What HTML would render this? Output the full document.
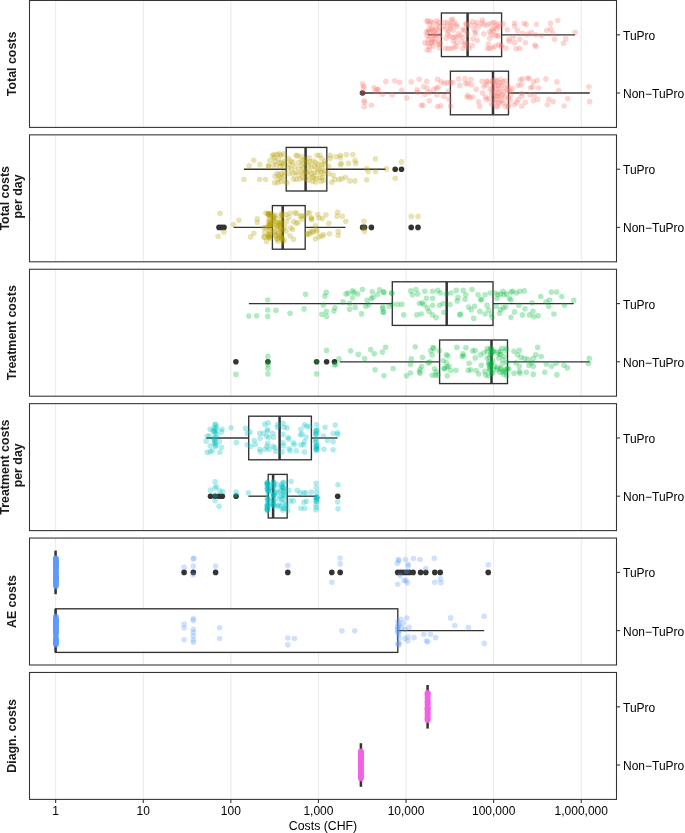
<!DOCTYPE html>
<html><head><meta charset="utf-8"><style>
html,body{margin:0;padding:0;background:#fff;}
svg{display:block;will-change:transform;}
text{font-family:"Liberation Sans",sans-serif;}
.ax{font-size:12px;fill:#000;}
.ti{font-size:12.3px;fill:#000;}
.st{font-size:12.4px;font-weight:bold;fill:#1A1A1A;}
</style></head><body>
<svg width="685" height="833" viewBox="0 0 685 833">
<rect width="685" height="833" fill="#fff"/>
<line x1="55.65" y1="0.45" x2="55.65" y2="127.40" stroke="#EBEBEE" stroke-width="1.07"/>
<line x1="143.25" y1="0.45" x2="143.25" y2="127.40" stroke="#EBEBEE" stroke-width="1.07"/>
<line x1="230.85" y1="0.45" x2="230.85" y2="127.40" stroke="#EBEBEE" stroke-width="1.07"/>
<line x1="318.45" y1="0.45" x2="318.45" y2="127.40" stroke="#EBEBEE" stroke-width="1.07"/>
<line x1="406.05" y1="0.45" x2="406.05" y2="127.40" stroke="#EBEBEE" stroke-width="1.07"/>
<line x1="493.65" y1="0.45" x2="493.65" y2="127.40" stroke="#EBEBEE" stroke-width="1.07"/>
<line x1="581.25" y1="0.45" x2="581.25" y2="127.40" stroke="#EBEBEE" stroke-width="1.07"/>
<line x1="427.8" y1="34.8" x2="441.4" y2="34.8" stroke="#333333" stroke-width="1.35"/>
<line x1="501.6" y1="34.8" x2="575.2" y2="34.8" stroke="#333333" stroke-width="1.35"/>
<rect x="441.4" y="13.00" width="60.20" height="43.6" fill="#fff" stroke="#333333" stroke-width="1.35"/>
<line x1="467.6" y1="13.00" x2="467.6" y2="56.60" stroke="#333333" stroke-width="2.5"/>
<line x1="364.0" y1="93.0" x2="450.4" y2="93.0" stroke="#333333" stroke-width="1.35"/>
<line x1="508.5" y1="93.0" x2="589.8" y2="93.0" stroke="#333333" stroke-width="1.35"/>
<rect x="450.4" y="71.20" width="58.10" height="43.6" fill="#fff" stroke="#333333" stroke-width="1.35"/>
<line x1="493.0" y1="71.20" x2="493.0" y2="114.80" stroke="#333333" stroke-width="2.5"/>
<circle cx="362.5" cy="93.0" r="2.8" fill="#333333"/>
<g fill="#F8766D" fill-opacity="0.3">
<circle cx="470.0" cy="25.1" r="2.8"/><circle cx="456.3" cy="24.4" r="2.8"/><circle cx="444.6" cy="22.2" r="2.8"/><circle cx="486.8" cy="25.1" r="2.8"/><circle cx="447.5" cy="22.9" r="2.8"/><circle cx="427.1" cy="36.1" r="2.8"/><circle cx="456.3" cy="42.7" r="2.8"/><circle cx="457.0" cy="26.6" r="2.8"/><circle cx="462.9" cy="37.5" r="2.8"/><circle cx="526.3" cy="24.6" r="2.8"/><circle cx="494.1" cy="28.1" r="2.8"/><circle cx="493.4" cy="31.0" r="2.8"/><circle cx="432.9" cy="46.3" r="2.8"/><circle cx="514.6" cy="23.1" r="2.8"/><circle cx="494.8" cy="35.4" r="2.8"/><circle cx="432.9" cy="22.9" r="2.8"/><circle cx="477.3" cy="40.5" r="2.8"/><circle cx="472.2" cy="45.6" r="2.8"/><circle cx="435.1" cy="39.0" r="2.8"/><circle cx="432.2" cy="39.7" r="2.8"/><circle cx="473.7" cy="29.5" r="2.8"/><circle cx="563.5" cy="43.3" r="2.8"/><circle cx="465.1" cy="45.6" r="2.8"/><circle cx="575.2" cy="32.2" r="2.8"/><circle cx="451.2" cy="25.9" r="2.8"/><circle cx="535.8" cy="34.8" r="2.8"/><circle cx="557.7" cy="20.5" r="2.8"/><circle cx="494.8" cy="22.2" r="2.8"/><circle cx="489.7" cy="48.5" r="2.8"/><circle cx="514.6" cy="42.4" r="2.8"/><circle cx="447.5" cy="33.9" r="2.8"/><circle cx="451.2" cy="20.0" r="2.8"/><circle cx="498.5" cy="44.8" r="2.8"/><circle cx="458.5" cy="33.9" r="2.8"/><circle cx="431.5" cy="29.5" r="2.8"/><circle cx="450.5" cy="28.8" r="2.8"/><circle cx="524.1" cy="23.4" r="2.8"/><circle cx="497.0" cy="28.8" r="2.8"/><circle cx="460.7" cy="35.4" r="2.8"/><circle cx="519.7" cy="48.2" r="2.8"/><circle cx="492.7" cy="47.8" r="2.8"/><circle cx="445.4" cy="48.5" r="2.8"/><circle cx="475.9" cy="31.7" r="2.8"/><circle cx="552.6" cy="33.1" r="2.8"/><circle cx="467.1" cy="43.4" r="2.8"/><circle cx="496.3" cy="25.1" r="2.8"/><circle cx="527.7" cy="34.1" r="2.8"/><circle cx="491.2" cy="33.9" r="2.8"/><circle cx="478.8" cy="26.6" r="2.8"/><circle cx="483.9" cy="24.4" r="2.8"/><circle cx="436.7" cy="29.5" r="2.8"/><circle cx="439.5" cy="36.1" r="2.8"/><circle cx="430.8" cy="21.5" r="2.8"/><circle cx="489.7" cy="38.3" r="2.8"/><circle cx="449.7" cy="36.1" r="2.8"/><circle cx="452.7" cy="37.5" r="2.8"/><circle cx="508.8" cy="39.2" r="2.8"/><circle cx="446.1" cy="38.3" r="2.8"/><circle cx="498.5" cy="36.1" r="2.8"/><circle cx="461.4" cy="41.9" r="2.8"/><circle cx="550.8" cy="28.7" r="2.8"/><circle cx="554.7" cy="39.2" r="2.8"/><circle cx="432.2" cy="27.7" r="2.8"/><circle cx="500.7" cy="46.3" r="2.8"/><circle cx="467.1" cy="33.9" r="2.8"/><circle cx="434.4" cy="30.2" r="2.8"/><circle cx="489.7" cy="31.7" r="2.8"/><circle cx="476.6" cy="22.2" r="2.8"/><circle cx="430.0" cy="36.1" r="2.8"/><circle cx="505.8" cy="48.2" r="2.8"/><circle cx="465.8" cy="23.7" r="2.8"/><circle cx="535.0" cy="45.0" r="2.8"/><circle cx="565.7" cy="38.9" r="2.8"/><circle cx="494.8" cy="46.3" r="2.8"/><circle cx="454.1" cy="47.8" r="2.8"/><circle cx="522.6" cy="33.4" r="2.8"/><circle cx="453.4" cy="41.2" r="2.8"/><circle cx="427.8" cy="20.8" r="2.8"/><circle cx="438.8" cy="41.9" r="2.8"/><circle cx="514.6" cy="26.1" r="2.8"/><circle cx="436.6" cy="35.4" r="2.8"/><circle cx="481.7" cy="22.9" r="2.8"/><circle cx="475.1" cy="25.1" r="2.8"/><circle cx="457.0" cy="37.5" r="2.8"/><circle cx="492.7" cy="22.9" r="2.8"/><circle cx="454.8" cy="36.8" r="2.8"/><circle cx="431.6" cy="41.9" r="2.8"/><circle cx="498.5" cy="26.6" r="2.8"/><circle cx="438.5" cy="44.8" r="2.8"/><circle cx="429.4" cy="31.5" r="2.8"/><circle cx="472.9" cy="39.0" r="2.8"/><circle cx="487.5" cy="48.5" r="2.8"/><circle cx="517.5" cy="30.4" r="2.8"/><circle cx="456.3" cy="46.3" r="2.8"/><circle cx="536.5" cy="24.3" r="2.8"/><circle cx="443.9" cy="26.6" r="2.8"/><circle cx="438.8" cy="31.0" r="2.8"/><circle cx="426.4" cy="32.4" r="2.8"/><circle cx="449.7" cy="24.4" r="2.8"/><circle cx="424.9" cy="42.7" r="2.8"/><circle cx="535.8" cy="46.5" r="2.8"/><circle cx="434.4" cy="41.9" r="2.8"/><circle cx="439.5" cy="26.6" r="2.8"/><circle cx="448.3" cy="48.5" r="2.8"/><circle cx="462.9" cy="29.5" r="2.8"/><circle cx="466.7" cy="24.4" r="2.8"/><circle cx="465.1" cy="42.7" r="2.8"/><circle cx="546.7" cy="30.4" r="2.8"/><circle cx="432.9" cy="35.4" r="2.8"/><circle cx="516.1" cy="48.7" r="2.8"/><circle cx="483.9" cy="33.9" r="2.8"/><circle cx="427.8" cy="32.0" r="2.8"/><circle cx="429.3" cy="46.3" r="2.8"/><circle cx="439.3" cy="47.6" r="2.8"/><circle cx="452.7" cy="19.3" r="2.8"/><circle cx="464.3" cy="30.2" r="2.8"/><circle cx="525.5" cy="42.8" r="2.8"/><circle cx="428.6" cy="39.7" r="2.8"/><circle cx="451.2" cy="48.5" r="2.8"/><circle cx="438.8" cy="22.2" r="2.8"/><circle cx="427.8" cy="43.4" r="2.8"/><circle cx="448.3" cy="31.0" r="2.8"/><circle cx="488.3" cy="44.1" r="2.8"/><circle cx="427.0" cy="21.2" r="2.8"/><circle cx="500.0" cy="23.7" r="2.8"/><circle cx="462.9" cy="48.5" r="2.8"/><circle cx="454.1" cy="22.9" r="2.8"/><circle cx="507.3" cy="29.7" r="2.8"/><circle cx="429.3" cy="24.4" r="2.8"/><circle cx="489.7" cy="23.7" r="2.8"/><circle cx="436.6" cy="20.8" r="2.8"/><circle cx="491.9" cy="29.5" r="2.8"/><circle cx="469.3" cy="48.5" r="2.8"/><circle cx="434.9" cy="34.8" r="2.8"/><circle cx="482.4" cy="20.0" r="2.8"/><circle cx="513.1" cy="37.0" r="2.8"/><circle cx="501.5" cy="45.8" r="2.8"/><circle cx="429.3" cy="50.0" r="2.8"/><circle cx="503.2" cy="23.9" r="2.8"/><circle cx="550.4" cy="23.4" r="2.8"/><circle cx="433.7" cy="32.4" r="2.8"/><circle cx="497.0" cy="35.4" r="2.8"/><circle cx="472.2" cy="21.5" r="2.8"/><circle cx="428.6" cy="29.5" r="2.8"/><circle cx="431.5" cy="42.7" r="2.8"/><circle cx="541.6" cy="35.5" r="2.8"/><circle cx="475.1" cy="33.9" r="2.8"/><circle cx="453.4" cy="30.2" r="2.8"/><circle cx="519.7" cy="39.2" r="2.8"/><circle cx="531.4" cy="32.2" r="2.8"/><circle cx="440.2" cy="43.4" r="2.8"/><circle cx="446.1" cy="28.8" r="2.8"/><circle cx="427.1" cy="50.0" r="2.8"/><circle cx="437.3" cy="25.1" r="2.8"/><circle cx="509.5" cy="41.4" r="2.8"/>
</g>
<g fill="#F8766D" fill-opacity="0.3">
<circle cx="503.6" cy="92.4" r="2.8"/><circle cx="459.9" cy="85.4" r="2.8"/><circle cx="376.2" cy="91.4" r="2.8"/><circle cx="518.1" cy="85.5" r="2.8"/><circle cx="465.1" cy="78.9" r="2.8"/><circle cx="482.0" cy="81.3" r="2.8"/><circle cx="437.5" cy="106.7" r="2.8"/><circle cx="471.5" cy="84.8" r="2.8"/><circle cx="497.8" cy="106.4" r="2.8"/><circle cx="470.9" cy="79.5" r="2.8"/><circle cx="450.6" cy="106.2" r="2.8"/><circle cx="494.9" cy="81.9" r="2.8"/><circle cx="534.2" cy="95.7" r="2.8"/><circle cx="458.7" cy="78.9" r="2.8"/><circle cx="500.7" cy="97.0" r="2.8"/><circle cx="422.9" cy="105.2" r="2.8"/><circle cx="501.9" cy="85.4" r="2.8"/><circle cx="417.8" cy="92.1" r="2.8"/><circle cx="499.6" cy="102.9" r="2.8"/><circle cx="436.8" cy="88.4" r="2.8"/><circle cx="496.1" cy="99.4" r="2.8"/><circle cx="371.4" cy="105.2" r="2.8"/><circle cx="505.4" cy="106.4" r="2.8"/><circle cx="521.8" cy="106.2" r="2.8"/><circle cx="507.7" cy="85.4" r="2.8"/><circle cx="500.7" cy="79.5" r="2.8"/><circle cx="465.7" cy="83.6" r="2.8"/><circle cx="510.1" cy="90.0" r="2.8"/><circle cx="498.4" cy="101.7" r="2.8"/><circle cx="521.1" cy="84.8" r="2.8"/><circle cx="449.2" cy="99.4" r="2.8"/><circle cx="496.1" cy="88.9" r="2.8"/><circle cx="485.5" cy="97.0" r="2.8"/><circle cx="468.0" cy="95.3" r="2.8"/><circle cx="490.2" cy="88.9" r="2.8"/><circle cx="392.2" cy="95.0" r="2.8"/><circle cx="482.6" cy="92.9" r="2.8"/><circle cx="548.8" cy="99.4" r="2.8"/><circle cx="547.3" cy="104.8" r="2.8"/><circle cx="438.2" cy="87.0" r="2.8"/><circle cx="529.1" cy="78.5" r="2.8"/><circle cx="507.2" cy="90.0" r="2.8"/><circle cx="401.7" cy="90.2" r="2.8"/><circle cx="533.5" cy="100.8" r="2.8"/><circle cx="447.0" cy="82.6" r="2.8"/><circle cx="436.8" cy="95.0" r="2.8"/><circle cx="476.2" cy="89.4" r="2.8"/><circle cx="510.8" cy="95.0" r="2.8"/><circle cx="437.5" cy="79.4" r="2.8"/><circle cx="508.9" cy="91.2" r="2.8"/><circle cx="382.4" cy="94.3" r="2.8"/><circle cx="364.1" cy="100.8" r="2.8"/><circle cx="588.9" cy="86.7" r="2.8"/><circle cx="500.7" cy="91.2" r="2.8"/><circle cx="494.9" cy="79.5" r="2.8"/><circle cx="378.4" cy="89.6" r="2.8"/><circle cx="503.1" cy="81.9" r="2.8"/><circle cx="525.4" cy="102.3" r="2.8"/><circle cx="478.5" cy="101.7" r="2.8"/><circle cx="489.1" cy="98.8" r="2.8"/><circle cx="441.1" cy="81.9" r="2.8"/><circle cx="468.0" cy="83.6" r="2.8"/><circle cx="505.4" cy="80.7" r="2.8"/><circle cx="498.4" cy="85.4" r="2.8"/><circle cx="466.9" cy="97.0" r="2.8"/><circle cx="429.5" cy="92.1" r="2.8"/><circle cx="486.7" cy="81.3" r="2.8"/><circle cx="419.2" cy="79.4" r="2.8"/><circle cx="427.3" cy="88.4" r="2.8"/><circle cx="495.5" cy="85.4" r="2.8"/><circle cx="469.8" cy="97.6" r="2.8"/><circle cx="556.8" cy="81.9" r="2.8"/><circle cx="363.5" cy="88.4" r="2.8"/><circle cx="533.5" cy="81.9" r="2.8"/><circle cx="444.1" cy="96.5" r="2.8"/><circle cx="510.1" cy="100.1" r="2.8"/><circle cx="522.5" cy="78.9" r="2.8"/><circle cx="492.0" cy="81.3" r="2.8"/><circle cx="472.7" cy="97.0" r="2.8"/><circle cx="450.6" cy="82.6" r="2.8"/><circle cx="429.2" cy="100.8" r="2.8"/><circle cx="502.5" cy="94.7" r="2.8"/><circle cx="497.8" cy="93.5" r="2.8"/><circle cx="483.8" cy="86.5" r="2.8"/><circle cx="504.8" cy="87.7" r="2.8"/><circle cx="394.7" cy="80.8" r="2.8"/><circle cx="491.4" cy="104.0" r="2.8"/><circle cx="491.4" cy="93.5" r="2.8"/><circle cx="487.9" cy="81.9" r="2.8"/><circle cx="385.9" cy="81.4" r="2.8"/><circle cx="417.0" cy="89.9" r="2.8"/><circle cx="520.3" cy="79.7" r="2.8"/><circle cx="486.1" cy="84.8" r="2.8"/><circle cx="537.8" cy="99.4" r="2.8"/><circle cx="364.5" cy="102.3" r="2.8"/><circle cx="564.1" cy="106.0" r="2.8"/><circle cx="498.4" cy="95.9" r="2.8"/><circle cx="479.7" cy="106.4" r="2.8"/><circle cx="362.3" cy="92.8" r="2.8"/><circle cx="516.7" cy="102.3" r="2.8"/><circle cx="423.6" cy="86.7" r="2.8"/><circle cx="376.9" cy="89.2" r="2.8"/><circle cx="553.2" cy="101.6" r="2.8"/><circle cx="493.7" cy="97.0" r="2.8"/><circle cx="518.1" cy="99.4" r="2.8"/><circle cx="364.1" cy="106.7" r="2.8"/><circle cx="514.5" cy="104.5" r="2.8"/><circle cx="529.8" cy="95.0" r="2.8"/><circle cx="363.8" cy="86.2" r="2.8"/><circle cx="448.4" cy="91.4" r="2.8"/><circle cx="538.6" cy="88.1" r="2.8"/><circle cx="433.8" cy="89.2" r="2.8"/><circle cx="493.1" cy="83.0" r="2.8"/><circle cx="532.7" cy="87.0" r="2.8"/><circle cx="558.7" cy="90.6" r="2.8"/><circle cx="362.5" cy="83.8" r="2.8"/><circle cx="494.9" cy="92.4" r="2.8"/><circle cx="499.6" cy="83.0" r="2.8"/><circle cx="426.8" cy="81.4" r="2.8"/><circle cx="486.7" cy="99.4" r="2.8"/><circle cx="499.0" cy="88.9" r="2.8"/><circle cx="452.8" cy="82.6" r="2.8"/><circle cx="421.4" cy="105.2" r="2.8"/><circle cx="440.4" cy="105.7" r="2.8"/><circle cx="589.7" cy="101.6" r="2.8"/><circle cx="411.2" cy="81.9" r="2.8"/><circle cx="444.1" cy="83.3" r="2.8"/><circle cx="545.9" cy="78.9" r="2.8"/><circle cx="425.1" cy="94.3" r="2.8"/><circle cx="494.3" cy="101.7" r="2.8"/><circle cx="521.8" cy="93.5" r="2.8"/><circle cx="505.4" cy="97.0" r="2.8"/><circle cx="508.3" cy="98.2" r="2.8"/><circle cx="501.9" cy="100.5" r="2.8"/><circle cx="521.8" cy="96.5" r="2.8"/><circle cx="399.5" cy="82.3" r="2.8"/><circle cx="497.2" cy="80.7" r="2.8"/><circle cx="496.6" cy="95.9" r="2.8"/><circle cx="567.8" cy="98.7" r="2.8"/><circle cx="503.6" cy="102.9" r="2.8"/><circle cx="507.9" cy="106.7" r="2.8"/><circle cx="374.0" cy="87.7" r="2.8"/><circle cx="527.6" cy="78.2" r="2.8"/><circle cx="496.1" cy="106.4" r="2.8"/><circle cx="530.5" cy="87.7" r="2.8"/><circle cx="537.1" cy="80.4" r="2.8"/><circle cx="492.6" cy="88.9" r="2.8"/><circle cx="508.9" cy="105.2" r="2.8"/><circle cx="406.8" cy="97.9" r="2.8"/><circle cx="512.3" cy="88.4" r="2.8"/>
</g>
<rect x="29.5" y="0.45" width="587.0" height="126.95" fill="none" stroke="#333333" stroke-width="1.07"/>
<line x1="616.5" y1="34.8" x2="620.1" y2="34.8" stroke="#333333" stroke-width="1.07"/>
<text x="623" y="39.70" class="ax">TuPro</text>
<line x1="616.5" y1="93.0" x2="620.1" y2="93.0" stroke="#333333" stroke-width="1.07"/>
<text x="623" y="97.90" class="ax">Non−TuPro</text>
<text transform="translate(16.4,63.93) rotate(-90)" text-anchor="middle" class="st">Total costs</text>
<line x1="55.65" y1="134.85" x2="55.65" y2="261.80" stroke="#EBEBEE" stroke-width="1.07"/>
<line x1="143.25" y1="134.85" x2="143.25" y2="261.80" stroke="#EBEBEE" stroke-width="1.07"/>
<line x1="230.85" y1="134.85" x2="230.85" y2="261.80" stroke="#EBEBEE" stroke-width="1.07"/>
<line x1="318.45" y1="134.85" x2="318.45" y2="261.80" stroke="#EBEBEE" stroke-width="1.07"/>
<line x1="406.05" y1="134.85" x2="406.05" y2="261.80" stroke="#EBEBEE" stroke-width="1.07"/>
<line x1="493.65" y1="134.85" x2="493.65" y2="261.80" stroke="#EBEBEE" stroke-width="1.07"/>
<line x1="581.25" y1="134.85" x2="581.25" y2="261.80" stroke="#EBEBEE" stroke-width="1.07"/>
<line x1="243.9" y1="169.2" x2="286.2" y2="169.2" stroke="#333333" stroke-width="1.35"/>
<line x1="326.8" y1="169.2" x2="385.7" y2="169.2" stroke="#333333" stroke-width="1.35"/>
<rect x="286.2" y="147.40" width="40.60" height="43.6" fill="#fff" stroke="#333333" stroke-width="1.35"/>
<line x1="305.6" y1="147.40" x2="305.6" y2="191.00" stroke="#333333" stroke-width="2.5"/>
<circle cx="395.2" cy="169.2" r="2.8" fill="#333333"/>
<circle cx="401.5" cy="169.2" r="2.8" fill="#333333"/>
<line x1="233.6" y1="227.4" x2="272.4" y2="227.4" stroke="#333333" stroke-width="1.35"/>
<line x1="305.2" y1="227.4" x2="345.5" y2="227.4" stroke="#333333" stroke-width="1.35"/>
<rect x="272.4" y="205.60" width="32.80" height="43.6" fill="#fff" stroke="#333333" stroke-width="1.35"/>
<line x1="282.7" y1="205.60" x2="282.7" y2="249.20" stroke="#333333" stroke-width="2.5"/>
<circle cx="219" cy="227.4" r="2.8" fill="#333333"/>
<circle cx="221.5" cy="227.4" r="2.8" fill="#333333"/>
<circle cx="224" cy="227.4" r="2.8" fill="#333333"/>
<circle cx="362.6" cy="227.4" r="2.8" fill="#333333"/>
<circle cx="364.5" cy="227.4" r="2.8" fill="#333333"/>
<circle cx="371.4" cy="227.4" r="2.8" fill="#333333"/>
<circle cx="411.2" cy="227.4" r="2.8" fill="#333333"/>
<circle cx="418" cy="227.4" r="2.8" fill="#333333"/>
<g fill="#B79F00" fill-opacity="0.3">
<circle cx="272.5" cy="155.9" r="2.8"/><circle cx="285.0" cy="160.5" r="2.8"/><circle cx="318.4" cy="164.4" r="2.8"/><circle cx="306.6" cy="172.3" r="2.8"/><circle cx="333.1" cy="175.0" r="2.8"/><circle cx="275.1" cy="176.2" r="2.8"/><circle cx="288.3" cy="167.7" r="2.8"/><circle cx="319.7" cy="177.5" r="2.8"/><circle cx="341.9" cy="178.7" r="2.8"/><circle cx="322.3" cy="168.3" r="2.8"/><circle cx="292.9" cy="162.4" r="2.8"/><circle cx="296.2" cy="155.2" r="2.8"/><circle cx="283.7" cy="176.2" r="2.8"/><circle cx="314.5" cy="172.3" r="2.8"/><circle cx="259.7" cy="179.5" r="2.8"/><circle cx="298.8" cy="162.4" r="2.8"/><circle cx="319.7" cy="155.2" r="2.8"/><circle cx="315.8" cy="162.4" r="2.8"/><circle cx="277.8" cy="182.8" r="2.8"/><circle cx="274.5" cy="182.8" r="2.8"/><circle cx="306.6" cy="162.4" r="2.8"/><circle cx="346.3" cy="154.6" r="2.8"/><circle cx="308.5" cy="180.2" r="2.8"/><circle cx="300.1" cy="178.9" r="2.8"/><circle cx="278.4" cy="178.9" r="2.8"/><circle cx="319.7" cy="169.7" r="2.8"/><circle cx="355.0" cy="160.4" r="2.8"/><circle cx="268.6" cy="165.7" r="2.8"/><circle cx="301.4" cy="172.3" r="2.8"/><circle cx="301.4" cy="156.5" r="2.8"/><circle cx="291.6" cy="169.0" r="2.8"/><circle cx="322.3" cy="177.5" r="2.8"/><circle cx="328.8" cy="173.6" r="2.8"/><circle cx="315.8" cy="182.1" r="2.8"/><circle cx="375.5" cy="171.4" r="2.8"/><circle cx="366.7" cy="179.7" r="2.8"/><circle cx="313.1" cy="161.1" r="2.8"/><circle cx="305.4" cy="178.9" r="2.8"/><circle cx="308.5" cy="165.7" r="2.8"/><circle cx="281.1" cy="155.2" r="2.8"/><circle cx="352.8" cy="154.6" r="2.8"/><circle cx="281.1" cy="177.5" r="2.8"/><circle cx="340.4" cy="155.3" r="2.8"/><circle cx="325.0" cy="161.1" r="2.8"/><circle cx="348.5" cy="163.4" r="2.8"/><circle cx="277.1" cy="154.5" r="2.8"/><circle cx="289.6" cy="164.4" r="2.8"/><circle cx="339.0" cy="179.4" r="2.8"/><circle cx="368.2" cy="171.4" r="2.8"/><circle cx="298.1" cy="174.9" r="2.8"/><circle cx="283.7" cy="163.7" r="2.8"/><circle cx="349.9" cy="180.9" r="2.8"/><circle cx="273.2" cy="165.1" r="2.8"/><circle cx="304.0" cy="163.1" r="2.8"/><circle cx="273.8" cy="154.5" r="2.8"/><circle cx="323.7" cy="180.2" r="2.8"/><circle cx="321.0" cy="181.5" r="2.8"/><circle cx="317.1" cy="167.7" r="2.8"/><circle cx="355.0" cy="180.9" r="2.8"/><circle cx="279.7" cy="163.1" r="2.8"/><circle cx="386.4" cy="168.9" r="2.8"/><circle cx="316.4" cy="178.2" r="2.8"/><circle cx="243.9" cy="179.5" r="2.8"/><circle cx="292.9" cy="173.6" r="2.8"/><circle cx="314.5" cy="166.4" r="2.8"/><circle cx="303.4" cy="167.7" r="2.8"/><circle cx="305.0" cy="171.0" r="2.8"/><circle cx="259.7" cy="164.4" r="2.8"/><circle cx="297.5" cy="155.9" r="2.8"/><circle cx="283.7" cy="153.9" r="2.8"/><circle cx="334.6" cy="179.4" r="2.8"/><circle cx="253.8" cy="160.2" r="2.8"/><circle cx="311.8" cy="173.6" r="2.8"/><circle cx="298.8" cy="169.0" r="2.8"/><circle cx="366.7" cy="168.5" r="2.8"/><circle cx="281.7" cy="173.6" r="2.8"/><circle cx="265.6" cy="179.5" r="2.8"/><circle cx="321.7" cy="164.4" r="2.8"/><circle cx="290.9" cy="161.1" r="2.8"/><circle cx="277.1" cy="173.6" r="2.8"/><circle cx="304.7" cy="159.1" r="2.8"/><circle cx="279.1" cy="174.9" r="2.8"/><circle cx="341.2" cy="163.4" r="2.8"/><circle cx="312.5" cy="181.5" r="2.8"/><circle cx="274.5" cy="157.8" r="2.8"/><circle cx="294.9" cy="166.4" r="2.8"/><circle cx="401.5" cy="161.9" r="2.8"/><circle cx="281.7" cy="162.4" r="2.8"/><circle cx="395.2" cy="178.2" r="2.8"/><circle cx="321.7" cy="158.5" r="2.8"/><circle cx="281.1" cy="181.5" r="2.8"/><circle cx="340.4" cy="164.8" r="2.8"/><circle cx="345.5" cy="177.2" r="2.8"/><circle cx="302.1" cy="160.5" r="2.8"/><circle cx="340.4" cy="157.5" r="2.8"/><circle cx="280.4" cy="166.4" r="2.8"/><circle cx="375.5" cy="158.7" r="2.8"/><circle cx="309.2" cy="157.8" r="2.8"/><circle cx="321.0" cy="172.3" r="2.8"/><circle cx="269.9" cy="160.5" r="2.8"/><circle cx="301.4" cy="165.7" r="2.8"/><circle cx="303.4" cy="173.6" r="2.8"/><circle cx="312.5" cy="177.5" r="2.8"/><circle cx="279.1" cy="153.9" r="2.8"/><circle cx="308.5" cy="175.6" r="2.8"/><circle cx="302.7" cy="177.5" r="2.8"/><circle cx="249.2" cy="165.7" r="2.8"/><circle cx="288.9" cy="173.6" r="2.8"/><circle cx="336.1" cy="156.8" r="2.8"/><circle cx="309.2" cy="171.0" r="2.8"/><circle cx="278.4" cy="159.1" r="2.8"/><circle cx="323.7" cy="173.6" r="2.8"/><circle cx="328.8" cy="166.3" r="2.8"/><circle cx="317.7" cy="172.3" r="2.8"/><circle cx="325.0" cy="171.0" r="2.8"/><circle cx="275.1" cy="161.1" r="2.8"/><circle cx="330.2" cy="155.3" r="2.8"/><circle cx="309.9" cy="161.8" r="2.8"/><circle cx="285.0" cy="181.5" r="2.8"/><circle cx="355.8" cy="163.4" r="2.8"/><circle cx="287.0" cy="182.8" r="2.8"/><circle cx="284.3" cy="172.3" r="2.8"/><circle cx="296.2" cy="179.5" r="2.8"/><circle cx="268.3" cy="166.4" r="2.8"/><circle cx="330.2" cy="158.2" r="2.8"/><circle cx="295.5" cy="172.3" r="2.8"/><circle cx="288.3" cy="158.5" r="2.8"/><circle cx="313.8" cy="176.9" r="2.8"/><circle cx="317.1" cy="155.2" r="2.8"/><circle cx="276.5" cy="165.1" r="2.8"/><circle cx="283.0" cy="165.7" r="2.8"/><circle cx="293.5" cy="178.9" r="2.8"/><circle cx="311.2" cy="167.0" r="2.8"/><circle cx="324.3" cy="163.7" r="2.8"/><circle cx="331.7" cy="182.3" r="2.8"/>
</g>
<g fill="#B79F00" fill-opacity="0.3">
<circle cx="278.2" cy="233.6" r="2.8"/><circle cx="329.5" cy="233.8" r="2.8"/><circle cx="272.5" cy="223.5" r="2.8"/><circle cx="315.4" cy="239.0" r="2.8"/><circle cx="268.5" cy="234.2" r="2.8"/><circle cx="224.0" cy="231.9" r="2.8"/><circle cx="277.4" cy="227.6" r="2.8"/><circle cx="309.6" cy="212.8" r="2.8"/><circle cx="263.8" cy="227.7" r="2.8"/><circle cx="279.4" cy="222.5" r="2.8"/><circle cx="290.0" cy="213.3" r="2.8"/><circle cx="270.0" cy="222.9" r="2.8"/><circle cx="325.9" cy="214.7" r="2.8"/><circle cx="264.7" cy="232.4" r="2.8"/><circle cx="323.6" cy="234.9" r="2.8"/><circle cx="293.5" cy="239.2" r="2.8"/><circle cx="321.9" cy="236.1" r="2.8"/><circle cx="269.0" cy="214.7" r="2.8"/><circle cx="274.1" cy="232.4" r="2.8"/><circle cx="310.2" cy="231.4" r="2.8"/><circle cx="265.6" cy="227.5" r="2.8"/><circle cx="273.0" cy="219.3" r="2.8"/><circle cx="264.4" cy="236.9" r="2.8"/><circle cx="276.1" cy="236.2" r="2.8"/><circle cx="363.9" cy="221.3" r="2.8"/><circle cx="269.1" cy="235.7" r="2.8"/><circle cx="269.3" cy="236.4" r="2.8"/><circle cx="300.5" cy="216.4" r="2.8"/><circle cx="290.9" cy="227.8" r="2.8"/><circle cx="411.2" cy="216.4" r="2.8"/><circle cx="322.4" cy="218.6" r="2.8"/><circle cx="282.9" cy="241.8" r="2.8"/><circle cx="279.9" cy="222.9" r="2.8"/><circle cx="294.9" cy="212.9" r="2.8"/><circle cx="270.8" cy="215.6" r="2.8"/><circle cx="282.1" cy="214.8" r="2.8"/><circle cx="270.5" cy="220.0" r="2.8"/><circle cx="311.4" cy="218.0" r="2.8"/><circle cx="265.9" cy="213.1" r="2.8"/><circle cx="275.0" cy="231.8" r="2.8"/><circle cx="281.0" cy="216.3" r="2.8"/><circle cx="281.5" cy="213.7" r="2.8"/><circle cx="275.6" cy="234.9" r="2.8"/><circle cx="267.8" cy="226.7" r="2.8"/><circle cx="328.9" cy="223.3" r="2.8"/><circle cx="250.6" cy="236.9" r="2.8"/><circle cx="309.3" cy="233.9" r="2.8"/><circle cx="274.4" cy="221.5" r="2.8"/><circle cx="316.0" cy="229.7" r="2.8"/><circle cx="278.4" cy="224.5" r="2.8"/><circle cx="269.9" cy="234.6" r="2.8"/><circle cx="272.8" cy="223.4" r="2.8"/><circle cx="274.7" cy="227.7" r="2.8"/><circle cx="276.1" cy="218.6" r="2.8"/><circle cx="281.7" cy="231.5" r="2.8"/><circle cx="296.6" cy="213.3" r="2.8"/><circle cx="268.3" cy="213.6" r="2.8"/><circle cx="277.8" cy="241.2" r="2.8"/><circle cx="306.7" cy="234.4" r="2.8"/><circle cx="278.6" cy="224.5" r="2.8"/><circle cx="270.6" cy="213.5" r="2.8"/><circle cx="296.2" cy="223.4" r="2.8"/><circle cx="286.1" cy="231.3" r="2.8"/><circle cx="284.8" cy="226.9" r="2.8"/><circle cx="302.3" cy="219.0" r="2.8"/><circle cx="282.7" cy="229.6" r="2.8"/><circle cx="277.6" cy="238.9" r="2.8"/><circle cx="270.1" cy="224.8" r="2.8"/><circle cx="279.5" cy="235.7" r="2.8"/><circle cx="290.0" cy="235.7" r="2.8"/><circle cx="257.2" cy="218.7" r="2.8"/><circle cx="281.5" cy="235.5" r="2.8"/><circle cx="269.9" cy="238.2" r="2.8"/><circle cx="273.4" cy="218.7" r="2.8"/><circle cx="312.8" cy="231.3" r="2.8"/><circle cx="270.5" cy="226.9" r="2.8"/><circle cx="273.8" cy="216.8" r="2.8"/><circle cx="218.1" cy="236.5" r="2.8"/><circle cx="292.7" cy="229.5" r="2.8"/><circle cx="280.6" cy="228.1" r="2.8"/><circle cx="312.5" cy="232.6" r="2.8"/><circle cx="280.4" cy="228.0" r="2.8"/><circle cx="311.1" cy="218.1" r="2.8"/><circle cx="280.3" cy="229.6" r="2.8"/><circle cx="270.1" cy="224.4" r="2.8"/><circle cx="307.6" cy="212.9" r="2.8"/><circle cx="275.5" cy="215.1" r="2.8"/><circle cx="257.2" cy="222.4" r="2.8"/><circle cx="238.9" cy="220.3" r="2.8"/><circle cx="282.3" cy="238.4" r="2.8"/><circle cx="301.4" cy="215.7" r="2.8"/><circle cx="283.9" cy="240.0" r="2.8"/><circle cx="268.3" cy="236.8" r="2.8"/><circle cx="285.7" cy="214.6" r="2.8"/><circle cx="264.1" cy="236.9" r="2.8"/><circle cx="315.4" cy="225.6" r="2.8"/><circle cx="281.9" cy="218.8" r="2.8"/><circle cx="317.8" cy="214.5" r="2.8"/><circle cx="276.8" cy="226.0" r="2.8"/><circle cx="281.5" cy="223.1" r="2.8"/><circle cx="268.9" cy="237.5" r="2.8"/><circle cx="277.1" cy="222.2" r="2.8"/><circle cx="270.2" cy="231.0" r="2.8"/><circle cx="318.9" cy="218.0" r="2.8"/><circle cx="304.9" cy="215.7" r="2.8"/><circle cx="297.9" cy="222.5" r="2.8"/><circle cx="342.3" cy="216.3" r="2.8"/><circle cx="220.0" cy="213.4" r="2.8"/><circle cx="288.7" cy="217.3" r="2.8"/><circle cx="268.9" cy="226.3" r="2.8"/><circle cx="338.2" cy="235.5" r="2.8"/><circle cx="266.5" cy="241.4" r="2.8"/><circle cx="337.6" cy="212.2" r="2.8"/><circle cx="268.3" cy="213.9" r="2.8"/><circle cx="276.6" cy="238.6" r="2.8"/><circle cx="345.8" cy="221.3" r="2.8"/><circle cx="337.0" cy="216.3" r="2.8"/><circle cx="281.8" cy="223.7" r="2.8"/><circle cx="281.0" cy="237.2" r="2.8"/><circle cx="281.2" cy="238.6" r="2.8"/><circle cx="293.5" cy="221.6" r="2.8"/><circle cx="418.0" cy="216.4" r="2.8"/><circle cx="268.3" cy="221.8" r="2.8"/><circle cx="279.1" cy="233.1" r="2.8"/><circle cx="363.9" cy="227.9" r="2.8"/><circle cx="269.4" cy="224.3" r="2.8"/><circle cx="253.9" cy="233.2" r="2.8"/><circle cx="281.6" cy="238.0" r="2.8"/><circle cx="273.8" cy="216.0" r="2.8"/><circle cx="338.2" cy="231.4" r="2.8"/><circle cx="269.0" cy="230.8" r="2.8"/><circle cx="269.4" cy="219.0" r="2.8"/><circle cx="307.6" cy="233.9" r="2.8"/><circle cx="286.5" cy="221.6" r="2.8"/><circle cx="268.7" cy="215.0" r="2.8"/><circle cx="269.8" cy="214.8" r="2.8"/><circle cx="318.9" cy="236.7" r="2.8"/><circle cx="317.2" cy="231.4" r="2.8"/><circle cx="233.5" cy="224.6" r="2.8"/><circle cx="311.9" cy="219.8" r="2.8"/><circle cx="269.1" cy="214.0" r="2.8"/><circle cx="364.5" cy="231.4" r="2.8"/><circle cx="270.3" cy="224.3" r="2.8"/>
</g>
<rect x="29.5" y="134.85" width="587.0" height="126.95" fill="none" stroke="#333333" stroke-width="1.07"/>
<line x1="616.5" y1="169.2" x2="620.1" y2="169.2" stroke="#333333" stroke-width="1.07"/>
<text x="623" y="174.10" class="ax">TuPro</text>
<line x1="616.5" y1="227.4" x2="620.1" y2="227.4" stroke="#333333" stroke-width="1.07"/>
<text x="623" y="232.30" class="ax">Non−TuPro</text>
<text transform="translate(9.1,198.32) rotate(-90)" text-anchor="middle" class="st">Total costs</text>
<text transform="translate(22.0,196.52) rotate(-90)" text-anchor="middle" class="st">per day</text>
<line x1="55.65" y1="269.25" x2="55.65" y2="396.20" stroke="#EBEBEE" stroke-width="1.07"/>
<line x1="143.25" y1="269.25" x2="143.25" y2="396.20" stroke="#EBEBEE" stroke-width="1.07"/>
<line x1="230.85" y1="269.25" x2="230.85" y2="396.20" stroke="#EBEBEE" stroke-width="1.07"/>
<line x1="318.45" y1="269.25" x2="318.45" y2="396.20" stroke="#EBEBEE" stroke-width="1.07"/>
<line x1="406.05" y1="269.25" x2="406.05" y2="396.20" stroke="#EBEBEE" stroke-width="1.07"/>
<line x1="493.65" y1="269.25" x2="493.65" y2="396.20" stroke="#EBEBEE" stroke-width="1.07"/>
<line x1="581.25" y1="269.25" x2="581.25" y2="396.20" stroke="#EBEBEE" stroke-width="1.07"/>
<line x1="248.9" y1="303.6" x2="392.3" y2="303.6" stroke="#333333" stroke-width="1.35"/>
<line x1="493.0" y1="303.6" x2="573.7" y2="303.6" stroke="#333333" stroke-width="1.35"/>
<rect x="392.3" y="281.80" width="100.70" height="43.6" fill="#fff" stroke="#333333" stroke-width="1.35"/>
<line x1="446.7" y1="281.80" x2="446.7" y2="325.40" stroke="#333333" stroke-width="2.5"/>
<line x1="339.8" y1="361.8" x2="439.6" y2="361.8" stroke="#333333" stroke-width="1.35"/>
<line x1="507.5" y1="361.8" x2="589.7" y2="361.8" stroke="#333333" stroke-width="1.35"/>
<rect x="439.6" y="340.00" width="67.90" height="43.6" fill="#fff" stroke="#333333" stroke-width="1.35"/>
<line x1="491.5" y1="340.00" x2="491.5" y2="383.60" stroke="#333333" stroke-width="2.5"/>
<circle cx="235.9" cy="361.8" r="2.8" fill="#333333"/>
<circle cx="267.9" cy="361.8" r="2.8" fill="#333333"/>
<circle cx="316.6" cy="361.8" r="2.8" fill="#333333"/>
<circle cx="326.6" cy="361.8" r="2.8" fill="#333333"/>
<circle cx="334.5" cy="361.8" r="2.8" fill="#333333"/>
<g fill="#00BA38" fill-opacity="0.3">
<circle cx="383.9" cy="292.4" r="2.8"/><circle cx="415.9" cy="289.5" r="2.8"/><circle cx="348.2" cy="293.1" r="2.8"/><circle cx="349.6" cy="309.2" r="2.8"/><circle cx="514.5" cy="311.9" r="2.8"/><circle cx="416.8" cy="314.9" r="2.8"/><circle cx="383.5" cy="312.3" r="2.8"/><circle cx="349.6" cy="303.4" r="2.8"/><circle cx="561.8" cy="296.5" r="2.8"/><circle cx="457.1" cy="300.9" r="2.8"/><circle cx="422.0" cy="302.7" r="2.8"/><circle cx="519.8" cy="291.3" r="2.8"/><circle cx="410.7" cy="290.9" r="2.8"/><circle cx="368.6" cy="304.8" r="2.8"/><circle cx="474.6" cy="306.2" r="2.8"/><circle cx="573.7" cy="300.4" r="2.8"/><circle cx="485.1" cy="294.8" r="2.8"/><circle cx="326.6" cy="316.2" r="2.8"/><circle cx="321.9" cy="314.3" r="2.8"/><circle cx="419.4" cy="303.5" r="2.8"/><circle cx="382.6" cy="307.0" r="2.8"/><circle cx="397.5" cy="304.4" r="2.8"/><circle cx="458.0" cy="297.4" r="2.8"/><circle cx="496.1" cy="306.2" r="2.8"/><circle cx="377.4" cy="294.6" r="2.8"/><circle cx="456.2" cy="290.4" r="2.8"/><circle cx="432.6" cy="314.9" r="2.8"/><circle cx="556.6" cy="292.1" r="2.8"/><circle cx="429.1" cy="311.4" r="2.8"/><circle cx="333.9" cy="311.1" r="2.8"/><circle cx="497.9" cy="294.8" r="2.8"/><circle cx="505.8" cy="307.0" r="2.8"/><circle cx="401.9" cy="304.4" r="2.8"/><circle cx="305.5" cy="294.3" r="2.8"/><circle cx="479.9" cy="311.4" r="2.8"/><circle cx="437.8" cy="290.4" r="2.8"/><circle cx="468.5" cy="307.0" r="2.8"/><circle cx="432.6" cy="298.3" r="2.8"/><circle cx="511.0" cy="317.2" r="2.8"/><circle cx="403.7" cy="314.9" r="2.8"/><circle cx="485.1" cy="314.0" r="2.8"/><circle cx="367.2" cy="300.4" r="2.8"/><circle cx="439.6" cy="305.3" r="2.8"/><circle cx="373.0" cy="297.2" r="2.8"/><circle cx="423.8" cy="304.4" r="2.8"/><circle cx="383.5" cy="292.1" r="2.8"/><circle cx="371.5" cy="298.2" r="2.8"/><circle cx="389.1" cy="306.3" r="2.8"/><circle cx="324.8" cy="296.1" r="2.8"/><circle cx="478.1" cy="294.8" r="2.8"/><circle cx="504.0" cy="294.8" r="2.8"/><circle cx="499.6" cy="313.2" r="2.8"/><circle cx="472.0" cy="289.5" r="2.8"/><circle cx="533.8" cy="316.7" r="2.8"/><circle cx="357.7" cy="293.9" r="2.8"/><circle cx="354.0" cy="292.4" r="2.8"/><circle cx="481.6" cy="299.2" r="2.8"/><circle cx="443.1" cy="303.5" r="2.8"/><circle cx="473.7" cy="318.4" r="2.8"/><circle cx="524.2" cy="290.9" r="2.8"/><circle cx="335.0" cy="307.7" r="2.8"/><circle cx="471.1" cy="309.7" r="2.8"/><circle cx="343.1" cy="301.9" r="2.8"/><circle cx="490.4" cy="293.0" r="2.8"/><circle cx="326.3" cy="311.4" r="2.8"/><circle cx="426.4" cy="298.3" r="2.8"/><circle cx="424.7" cy="291.3" r="2.8"/><circle cx="518.9" cy="305.3" r="2.8"/><circle cx="509.3" cy="298.3" r="2.8"/><circle cx="465.8" cy="294.8" r="2.8"/><circle cx="346.0" cy="293.9" r="2.8"/><circle cx="427.3" cy="307.9" r="2.8"/><circle cx="355.2" cy="307.4" r="2.8"/><circle cx="372.3" cy="291.7" r="2.8"/><circle cx="548.7" cy="306.2" r="2.8"/><circle cx="275.9" cy="310.2" r="2.8"/><circle cx="382.9" cy="308.5" r="2.8"/><circle cx="486.9" cy="305.3" r="2.8"/><circle cx="365.7" cy="306.3" r="2.8"/><circle cx="383.2" cy="312.1" r="2.8"/><circle cx="495.3" cy="293.0" r="2.8"/><circle cx="546.1" cy="301.8" r="2.8"/><circle cx="267.7" cy="300.0" r="2.8"/><circle cx="352.6" cy="290.9" r="2.8"/><circle cx="532.9" cy="311.4" r="2.8"/><circle cx="391.4" cy="293.0" r="2.8"/><circle cx="392.0" cy="293.4" r="2.8"/><circle cx="267.7" cy="310.0" r="2.8"/><circle cx="361.6" cy="313.9" r="2.8"/><circle cx="450.1" cy="304.4" r="2.8"/><circle cx="511.0" cy="292.1" r="2.8"/><circle cx="492.1" cy="317.6" r="2.8"/><circle cx="540.8" cy="296.5" r="2.8"/><circle cx="432.6" cy="291.3" r="2.8"/><circle cx="459.7" cy="314.9" r="2.8"/><circle cx="248.7" cy="316.1" r="2.8"/><circle cx="256.6" cy="315.8" r="2.8"/><circle cx="304.1" cy="308.9" r="2.8"/><circle cx="417.7" cy="293.9" r="2.8"/><circle cx="436.1" cy="317.6" r="2.8"/><circle cx="551.3" cy="292.1" r="2.8"/><circle cx="463.2" cy="290.4" r="2.8"/><circle cx="440.4" cy="293.0" r="2.8"/><circle cx="503.1" cy="291.3" r="2.8"/><circle cx="267.7" cy="316.3" r="2.8"/><circle cx="446.6" cy="293.9" r="2.8"/><circle cx="532.0" cy="302.7" r="2.8"/><circle cx="465.0" cy="299.2" r="2.8"/><circle cx="525.0" cy="308.8" r="2.8"/><circle cx="553.9" cy="314.0" r="2.8"/><circle cx="451.0" cy="293.0" r="2.8"/><circle cx="506.6" cy="293.9" r="2.8"/><circle cx="421.2" cy="314.0" r="2.8"/><circle cx="480.7" cy="300.0" r="2.8"/><circle cx="460.6" cy="314.0" r="2.8"/><circle cx="392.3" cy="304.4" r="2.8"/><circle cx="538.2" cy="315.8" r="2.8"/><circle cx="432.6" cy="305.3" r="2.8"/><circle cx="564.5" cy="305.3" r="2.8"/><circle cx="412.4" cy="294.8" r="2.8"/><circle cx="323.4" cy="305.1" r="2.8"/><circle cx="290.1" cy="313.2" r="2.8"/><circle cx="512.8" cy="291.3" r="2.8"/><circle cx="500.5" cy="309.7" r="2.8"/><circle cx="529.4" cy="314.9" r="2.8"/><circle cx="500.5" cy="293.9" r="2.8"/><circle cx="522.4" cy="314.9" r="2.8"/><circle cx="379.6" cy="289.9" r="2.8"/><circle cx="497.0" cy="298.3" r="2.8"/><circle cx="516.3" cy="293.0" r="2.8"/><circle cx="491.2" cy="314.0" r="2.8"/><circle cx="443.9" cy="312.3" r="2.8"/><circle cx="503.1" cy="307.9" r="2.8"/><circle cx="362.5" cy="289.5" r="2.8"/><circle cx="511.0" cy="300.0" r="2.8"/><circle cx="488.6" cy="309.7" r="2.8"/><circle cx="326.3" cy="292.4" r="2.8"/><circle cx="549.6" cy="300.0" r="2.8"/><circle cx="352.6" cy="297.8" r="2.8"/>
</g>
<g fill="#00BA38" fill-opacity="0.3">
<circle cx="589.3" cy="358.3" r="2.8"/><circle cx="447.2" cy="367.0" r="2.8"/><circle cx="504.7" cy="370.3" r="2.8"/><circle cx="415.3" cy="346.8" r="2.8"/><circle cx="519.3" cy="371.4" r="2.8"/><circle cx="505.2" cy="371.7" r="2.8"/><circle cx="476.1" cy="370.5" r="2.8"/><circle cx="422.5" cy="357.3" r="2.8"/><circle cx="481.3" cy="365.3" r="2.8"/><circle cx="469.1" cy="363.2" r="2.8"/><circle cx="267.9" cy="361.8" r="2.8"/><circle cx="406.5" cy="375.7" r="2.8"/><circle cx="456.8" cy="347.4" r="2.8"/><circle cx="472.6" cy="350.9" r="2.8"/><circle cx="488.4" cy="376.0" r="2.8"/><circle cx="448.9" cy="366.2" r="2.8"/><circle cx="489.2" cy="357.4" r="2.8"/><circle cx="468.2" cy="370.2" r="2.8"/><circle cx="544.7" cy="372.3" r="2.8"/><circle cx="429.7" cy="362.1" r="2.8"/><circle cx="446.3" cy="354.8" r="2.8"/><circle cx="375.1" cy="369.8" r="2.8"/><circle cx="503.1" cy="359.7" r="2.8"/><circle cx="537.7" cy="347.4" r="2.8"/><circle cx="485.7" cy="374.9" r="2.8"/><circle cx="455.9" cy="370.2" r="2.8"/><circle cx="499.0" cy="354.3" r="2.8"/><circle cx="326.6" cy="350.4" r="2.8"/><circle cx="267.9" cy="368.3" r="2.8"/><circle cx="515.8" cy="362.7" r="2.8"/><circle cx="533.3" cy="358.3" r="2.8"/><circle cx="487.4" cy="358.3" r="2.8"/><circle cx="432.2" cy="354.9" r="2.8"/><circle cx="437.8" cy="374.9" r="2.8"/><circle cx="526.3" cy="372.3" r="2.8"/><circle cx="497.4" cy="367.3" r="2.8"/><circle cx="435.4" cy="375.3" r="2.8"/><circle cx="519.3" cy="366.2" r="2.8"/><circle cx="567.4" cy="367.9" r="2.8"/><circle cx="491.0" cy="348.3" r="2.8"/><circle cx="339.0" cy="358.9" r="2.8"/><circle cx="443.4" cy="360.5" r="2.8"/><circle cx="490.0" cy="366.0" r="2.8"/><circle cx="478.7" cy="374.0" r="2.8"/><circle cx="528.0" cy="359.2" r="2.8"/><circle cx="500.1" cy="368.4" r="2.8"/><circle cx="410.5" cy="373.0" r="2.8"/><circle cx="448.0" cy="355.7" r="2.8"/><circle cx="488.5" cy="364.3" r="2.8"/><circle cx="506.6" cy="369.0" r="2.8"/><circle cx="491.7" cy="363.7" r="2.8"/><circle cx="350.6" cy="350.8" r="2.8"/><circle cx="492.2" cy="372.9" r="2.8"/><circle cx="517.5" cy="354.8" r="2.8"/><circle cx="450.7" cy="370.5" r="2.8"/><circle cx="430.6" cy="350.8" r="2.8"/><circle cx="475.2" cy="357.9" r="2.8"/><circle cx="484.8" cy="371.4" r="2.8"/><circle cx="432.2" cy="375.3" r="2.8"/><circle cx="411.3" cy="358.9" r="2.8"/><circle cx="499.7" cy="372.3" r="2.8"/><circle cx="520.1" cy="373.2" r="2.8"/><circle cx="490.1" cy="367.3" r="2.8"/><circle cx="519.3" cy="350.4" r="2.8"/><circle cx="494.0" cy="351.4" r="2.8"/><circle cx="382.4" cy="352.1" r="2.8"/><circle cx="374.3" cy="353.7" r="2.8"/><circle cx="433.8" cy="348.4" r="2.8"/><circle cx="563.9" cy="365.3" r="2.8"/><circle cx="470.8" cy="369.7" r="2.8"/><circle cx="370.7" cy="349.6" r="2.8"/><circle cx="487.4" cy="351.3" r="2.8"/><circle cx="546.4" cy="363.9" r="2.8"/><circle cx="493.2" cy="369.1" r="2.8"/><circle cx="502.3" cy="363.5" r="2.8"/><circle cx="334.5" cy="364.8" r="2.8"/><circle cx="514.0" cy="373.2" r="2.8"/><circle cx="463.8" cy="355.7" r="2.8"/><circle cx="533.3" cy="374.4" r="2.8"/><circle cx="521.0" cy="357.4" r="2.8"/><circle cx="267.9" cy="364.8" r="2.8"/><circle cx="490.2" cy="364.3" r="2.8"/><circle cx="446.3" cy="362.7" r="2.8"/><circle cx="433.0" cy="347.6" r="2.8"/><circle cx="533.3" cy="366.2" r="2.8"/><circle cx="524.5" cy="358.3" r="2.8"/><circle cx="551.7" cy="366.2" r="2.8"/><circle cx="267.9" cy="373.9" r="2.8"/><circle cx="505.8" cy="350.4" r="2.8"/><circle cx="489.9" cy="370.4" r="2.8"/><circle cx="492.2" cy="352.0" r="2.8"/><circle cx="447.2" cy="375.8" r="2.8"/><circle cx="493.1" cy="351.6" r="2.8"/><circle cx="436.2" cy="371.7" r="2.8"/><circle cx="384.0" cy="375.7" r="2.8"/><circle cx="497.1" cy="369.7" r="2.8"/><circle cx="410.5" cy="364.5" r="2.8"/><circle cx="501.7" cy="348.2" r="2.8"/><circle cx="385.6" cy="347.3" r="2.8"/><circle cx="364.7" cy="358.6" r="2.8"/><circle cx="501.3" cy="368.7" r="2.8"/><circle cx="316.6" cy="361.8" r="2.8"/><circle cx="507.0" cy="362.5" r="2.8"/><circle cx="419.3" cy="371.7" r="2.8"/><circle cx="491.7" cy="351.6" r="2.8"/><circle cx="502.5" cy="372.0" r="2.8"/><circle cx="491.1" cy="348.2" r="2.8"/><circle cx="500.6" cy="351.3" r="2.8"/><circle cx="514.0" cy="351.3" r="2.8"/><circle cx="488.9" cy="362.3" r="2.8"/><circle cx="465.9" cy="347.8" r="2.8"/><circle cx="541.2" cy="356.5" r="2.8"/><circle cx="444.2" cy="368.5" r="2.8"/><circle cx="498.8" cy="358.1" r="2.8"/><circle cx="588.5" cy="363.5" r="2.8"/><circle cx="491.2" cy="355.0" r="2.8"/><circle cx="434.6" cy="368.8" r="2.8"/><circle cx="267.9" cy="356.4" r="2.8"/><circle cx="506.7" cy="375.8" r="2.8"/><circle cx="420.1" cy="369.3" r="2.8"/><circle cx="506.2" cy="348.3" r="2.8"/><circle cx="444.5" cy="368.8" r="2.8"/><circle cx="556.9" cy="374.9" r="2.8"/><circle cx="335.8" cy="364.5" r="2.8"/><circle cx="491.3" cy="363.0" r="2.8"/><circle cx="492.7" cy="360.1" r="2.8"/><circle cx="235.9" cy="374.4" r="2.8"/><circle cx="483.9" cy="352.7" r="2.8"/><circle cx="507.6" cy="368.8" r="2.8"/><circle cx="535.9" cy="354.8" r="2.8"/><circle cx="556.1" cy="363.2" r="2.8"/><circle cx="475.2" cy="350.4" r="2.8"/><circle cx="497.9" cy="352.1" r="2.8"/><circle cx="421.7" cy="366.6" r="2.8"/><circle cx="462.0" cy="356.5" r="2.8"/><circle cx="487.4" cy="348.6" r="2.8"/><circle cx="491.7" cy="373.4" r="2.8"/><circle cx="531.5" cy="362.7" r="2.8"/><circle cx="494.4" cy="366.3" r="2.8"/><circle cx="503.8" cy="374.3" r="2.8"/><circle cx="462.9" cy="353.9" r="2.8"/><circle cx="393.1" cy="368.5" r="2.8"/><circle cx="420.1" cy="373.3" r="2.8"/><circle cx="528.9" cy="365.3" r="2.8"/><circle cx="500.5" cy="354.5" r="2.8"/><circle cx="316.6" cy="373.9" r="2.8"/><circle cx="480.4" cy="354.8" r="2.8"/><circle cx="489.5" cy="368.8" r="2.8"/><circle cx="428.1" cy="362.9" r="2.8"/><circle cx="439.4" cy="350.8" r="2.8"/><circle cx="358.3" cy="354.4" r="2.8"/><circle cx="508.8" cy="368.8" r="2.8"/><circle cx="504.1" cy="356.5" r="2.8"/><circle cx="490.7" cy="353.8" r="2.8"/>
</g>
<rect x="29.5" y="269.25" width="587.0" height="126.95" fill="none" stroke="#333333" stroke-width="1.07"/>
<line x1="616.5" y1="303.6" x2="620.1" y2="303.6" stroke="#333333" stroke-width="1.07"/>
<text x="623" y="308.50" class="ax">TuPro</text>
<line x1="616.5" y1="361.8" x2="620.1" y2="361.8" stroke="#333333" stroke-width="1.07"/>
<text x="623" y="366.70" class="ax">Non−TuPro</text>
<text transform="translate(16.4,332.73) rotate(-90)" text-anchor="middle" class="st">Treatment costs</text>
<line x1="55.65" y1="403.65" x2="55.65" y2="530.60" stroke="#EBEBEE" stroke-width="1.07"/>
<line x1="143.25" y1="403.65" x2="143.25" y2="530.60" stroke="#EBEBEE" stroke-width="1.07"/>
<line x1="230.85" y1="403.65" x2="230.85" y2="530.60" stroke="#EBEBEE" stroke-width="1.07"/>
<line x1="318.45" y1="403.65" x2="318.45" y2="530.60" stroke="#EBEBEE" stroke-width="1.07"/>
<line x1="406.05" y1="403.65" x2="406.05" y2="530.60" stroke="#EBEBEE" stroke-width="1.07"/>
<line x1="493.65" y1="403.65" x2="493.65" y2="530.60" stroke="#EBEBEE" stroke-width="1.07"/>
<line x1="581.25" y1="403.65" x2="581.25" y2="530.60" stroke="#EBEBEE" stroke-width="1.07"/>
<line x1="206.3" y1="438.00000000000006" x2="248.7" y2="438.00000000000006" stroke="#333333" stroke-width="1.35"/>
<line x1="311.4" y1="438.00000000000006" x2="337.5" y2="438.00000000000006" stroke="#333333" stroke-width="1.35"/>
<rect x="248.7" y="416.20" width="62.70" height="43.6" fill="#fff" stroke="#333333" stroke-width="1.35"/>
<line x1="279.6" y1="416.20" x2="279.6" y2="459.80" stroke="#333333" stroke-width="2.5"/>
<line x1="248.4" y1="496.20000000000005" x2="268.2" y2="496.20000000000005" stroke="#333333" stroke-width="1.35"/>
<line x1="287.2" y1="496.20000000000005" x2="316.5" y2="496.20000000000005" stroke="#333333" stroke-width="1.35"/>
<rect x="268.2" y="474.40" width="19.00" height="43.6" fill="#fff" stroke="#333333" stroke-width="1.35"/>
<line x1="273.1" y1="474.40" x2="273.1" y2="518.00" stroke="#333333" stroke-width="2.5"/>
<circle cx="210.5" cy="496.20000000000005" r="2.8" fill="#333333"/>
<circle cx="215.1" cy="496.20000000000005" r="2.8" fill="#333333"/>
<circle cx="219.1" cy="496.20000000000005" r="2.8" fill="#333333"/>
<circle cx="222.3" cy="496.20000000000005" r="2.8" fill="#333333"/>
<circle cx="236.1" cy="496.20000000000005" r="2.8" fill="#333333"/>
<circle cx="337.7" cy="496.20000000000005" r="2.8" fill="#333333"/>
<g fill="#00BFC4" fill-opacity="0.3">
<circle cx="325.0" cy="427.3" r="2.8"/><circle cx="294.3" cy="444.7" r="2.8"/><circle cx="255.3" cy="444.5" r="2.8"/><circle cx="273.6" cy="437.2" r="2.8"/><circle cx="214.6" cy="443.0" r="2.8"/><circle cx="316.5" cy="448.0" r="2.8"/><circle cx="215.3" cy="445.7" r="2.8"/><circle cx="214.8" cy="440.6" r="2.8"/><circle cx="266.6" cy="436.1" r="2.8"/><circle cx="245.5" cy="428.3" r="2.8"/><circle cx="250.2" cy="432.1" r="2.8"/><circle cx="333.1" cy="449.8" r="2.8"/><circle cx="316.2" cy="433.2" r="2.8"/><circle cx="215.9" cy="445.9" r="2.8"/><circle cx="210.2" cy="445.7" r="2.8"/><circle cx="259.7" cy="449.2" r="2.8"/><circle cx="300.9" cy="444.7" r="2.8"/><circle cx="215.3" cy="437.5" r="2.8"/><circle cx="210.2" cy="429.3" r="2.8"/><circle cx="306.6" cy="426.3" r="2.8"/><circle cx="323.4" cy="436.0" r="2.8"/><circle cx="214.8" cy="438.9" r="2.8"/><circle cx="259.7" cy="433.2" r="2.8"/><circle cx="304.5" cy="424.8" r="2.8"/><circle cx="207.2" cy="436.0" r="2.8"/><circle cx="283.1" cy="434.5" r="2.8"/><circle cx="206.1" cy="441.1" r="2.8"/><circle cx="316.1" cy="450.0" r="2.8"/><circle cx="263.4" cy="433.2" r="2.8"/><circle cx="236.3" cy="442.6" r="2.8"/><circle cx="283.1" cy="442.7" r="2.8"/><circle cx="317.1" cy="445.0" r="2.8"/><circle cx="216.3" cy="429.3" r="2.8"/><circle cx="302.0" cy="434.0" r="2.8"/><circle cx="290.2" cy="450.8" r="2.8"/><circle cx="293.3" cy="442.7" r="2.8"/><circle cx="212.3" cy="450.8" r="2.8"/><circle cx="247.3" cy="433.2" r="2.8"/><circle cx="254.2" cy="440.5" r="2.8"/><circle cx="333.1" cy="441.6" r="2.8"/><circle cx="209.7" cy="436.0" r="2.8"/><circle cx="214.3" cy="428.3" r="2.8"/><circle cx="337.7" cy="434.5" r="2.8"/><circle cx="207.2" cy="452.3" r="2.8"/><circle cx="289.2" cy="448.8" r="2.8"/><circle cx="272.8" cy="433.2" r="2.8"/><circle cx="304.5" cy="441.6" r="2.8"/><circle cx="317.2" cy="449.0" r="2.8"/><circle cx="315.5" cy="439.2" r="2.8"/><circle cx="273.2" cy="446.3" r="2.8"/><circle cx="283.6" cy="445.7" r="2.8"/><circle cx="300.4" cy="435.0" r="2.8"/><circle cx="300.9" cy="429.4" r="2.8"/><circle cx="287.2" cy="427.8" r="2.8"/><circle cx="304.5" cy="451.9" r="2.8"/><circle cx="316.3" cy="434.6" r="2.8"/><circle cx="215.3" cy="443.6" r="2.8"/><circle cx="316.1" cy="445.5" r="2.8"/><circle cx="333.1" cy="433.5" r="2.8"/><circle cx="264.8" cy="424.4" r="2.8"/><circle cx="315.6" cy="434.0" r="2.8"/><circle cx="267.7" cy="431.0" r="2.8"/><circle cx="283.1" cy="423.2" r="2.8"/><circle cx="265.2" cy="449.2" r="2.8"/><circle cx="315.9" cy="441.0" r="2.8"/><circle cx="316.4" cy="450.3" r="2.8"/><circle cx="316.5" cy="445.9" r="2.8"/><circle cx="214.7" cy="424.8" r="2.8"/><circle cx="275.0" cy="447.8" r="2.8"/><circle cx="214.1" cy="439.6" r="2.8"/><circle cx="215.1" cy="431.1" r="2.8"/><circle cx="288.2" cy="437.5" r="2.8"/><circle cx="221.5" cy="447.2" r="2.8"/><circle cx="215.8" cy="424.2" r="2.8"/><circle cx="222.0" cy="429.3" r="2.8"/><circle cx="269.2" cy="449.2" r="2.8"/><circle cx="316.3" cy="447.8" r="2.8"/><circle cx="219.4" cy="441.6" r="2.8"/><circle cx="288.7" cy="439.1" r="2.8"/><circle cx="327.5" cy="440.6" r="2.8"/><circle cx="284.1" cy="427.3" r="2.8"/><circle cx="323.9" cy="449.3" r="2.8"/><circle cx="306.1" cy="437.0" r="2.8"/><circle cx="316.4" cy="424.6" r="2.8"/><circle cx="210.2" cy="451.8" r="2.8"/><circle cx="247.3" cy="444.8" r="2.8"/><circle cx="260.1" cy="438.3" r="2.8"/><circle cx="268.8" cy="437.5" r="2.8"/><circle cx="278.0" cy="424.4" r="2.8"/><circle cx="268.1" cy="422.9" r="2.8"/><circle cx="216.9" cy="434.4" r="2.8"/><circle cx="315.7" cy="430.9" r="2.8"/><circle cx="316.0" cy="442.3" r="2.8"/><circle cx="282.0" cy="451.9" r="2.8"/><circle cx="267.7" cy="443.4" r="2.8"/><circle cx="213.1" cy="430.5" r="2.8"/><circle cx="316.3" cy="430.5" r="2.8"/><circle cx="250.9" cy="446.3" r="2.8"/><circle cx="214.1" cy="431.8" r="2.8"/><circle cx="267.0" cy="446.3" r="2.8"/><circle cx="335.2" cy="425.1" r="2.8"/><circle cx="221.5" cy="431.9" r="2.8"/><circle cx="260.4" cy="451.8" r="2.8"/><circle cx="219.9" cy="452.3" r="2.8"/><circle cx="337.5" cy="432.6" r="2.8"/><circle cx="277.2" cy="427.3" r="2.8"/><circle cx="317.2" cy="429.9" r="2.8"/><circle cx="275.8" cy="451.4" r="2.8"/><circle cx="216.3" cy="426.8" r="2.8"/><circle cx="303.5" cy="444.7" r="2.8"/><circle cx="267.4" cy="429.5" r="2.8"/><circle cx="296.3" cy="450.8" r="2.8"/><circle cx="215.3" cy="433.4" r="2.8"/><circle cx="231.2" cy="427.8" r="2.8"/><circle cx="309.6" cy="426.8" r="2.8"/>
</g>
<g fill="#00BFC4" fill-opacity="0.3">
<circle cx="273.9" cy="495.6" r="2.8"/><circle cx="215.0" cy="481.8" r="2.8"/><circle cx="273.6" cy="489.8" r="2.8"/><circle cx="267.4" cy="488.8" r="2.8"/><circle cx="316.5" cy="501.5" r="2.8"/><circle cx="267.0" cy="510.2" r="2.8"/><circle cx="273.4" cy="499.6" r="2.8"/><circle cx="267.8" cy="484.9" r="2.8"/><circle cx="290.3" cy="500.9" r="2.8"/><circle cx="306.5" cy="501.3" r="2.8"/><circle cx="315.9" cy="499.6" r="2.8"/><circle cx="337.6" cy="501.8" r="2.8"/><circle cx="268.7" cy="488.6" r="2.8"/><circle cx="273.5" cy="484.6" r="2.8"/><circle cx="215.1" cy="495.0" r="2.8"/><circle cx="282.3" cy="487.1" r="2.8"/><circle cx="277.0" cy="484.4" r="2.8"/><circle cx="268.3" cy="506.0" r="2.8"/><circle cx="215.1" cy="500.6" r="2.8"/><circle cx="267.2" cy="487.5" r="2.8"/><circle cx="267.5" cy="509.8" r="2.8"/><circle cx="311.3" cy="492.1" r="2.8"/><circle cx="273.3" cy="504.6" r="2.8"/><circle cx="268.6" cy="491.1" r="2.8"/><circle cx="267.5" cy="508.8" r="2.8"/><circle cx="283.9" cy="490.7" r="2.8"/><circle cx="303.8" cy="502.2" r="2.8"/><circle cx="316.4" cy="497.2" r="2.8"/><circle cx="267.5" cy="483.8" r="2.8"/><circle cx="297.3" cy="490.4" r="2.8"/><circle cx="273.5" cy="500.8" r="2.8"/><circle cx="282.6" cy="510.1" r="2.8"/><circle cx="338.0" cy="484.7" r="2.8"/><circle cx="273.9" cy="485.3" r="2.8"/><circle cx="316.4" cy="501.0" r="2.8"/><circle cx="236.1" cy="492.1" r="2.8"/><circle cx="276.5" cy="492.4" r="2.8"/><circle cx="317.0" cy="497.8" r="2.8"/><circle cx="317.1" cy="499.5" r="2.8"/><circle cx="280.2" cy="496.5" r="2.8"/><circle cx="316.7" cy="492.6" r="2.8"/><circle cx="267.3" cy="508.5" r="2.8"/><circle cx="216.4" cy="486.5" r="2.8"/><circle cx="267.5" cy="504.2" r="2.8"/><circle cx="267.5" cy="509.7" r="2.8"/><circle cx="267.2" cy="498.8" r="2.8"/><circle cx="267.3" cy="489.6" r="2.8"/><circle cx="316.9" cy="496.9" r="2.8"/><circle cx="273.7" cy="494.9" r="2.8"/><circle cx="286.0" cy="504.2" r="2.8"/><circle cx="316.7" cy="497.6" r="2.8"/><circle cx="283.8" cy="493.9" r="2.8"/><circle cx="273.4" cy="482.1" r="2.8"/><circle cx="267.6" cy="501.0" r="2.8"/><circle cx="278.8" cy="499.1" r="2.8"/><circle cx="267.1" cy="482.7" r="2.8"/><circle cx="303.8" cy="492.6" r="2.8"/><circle cx="210.5" cy="490.1" r="2.8"/><circle cx="222.7" cy="491.7" r="2.8"/><circle cx="267.6" cy="484.3" r="2.8"/><circle cx="273.8" cy="501.3" r="2.8"/><circle cx="338.0" cy="508.8" r="2.8"/><circle cx="269.0" cy="503.9" r="2.8"/><circle cx="282.3" cy="487.5" r="2.8"/><circle cx="315.9" cy="504.5" r="2.8"/><circle cx="273.2" cy="487.2" r="2.8"/><circle cx="280.9" cy="490.2" r="2.8"/><circle cx="283.8" cy="508.5" r="2.8"/><circle cx="283.1" cy="502.7" r="2.8"/><circle cx="273.0" cy="504.1" r="2.8"/><circle cx="267.7" cy="498.1" r="2.8"/><circle cx="281.6" cy="486.6" r="2.8"/><circle cx="219.7" cy="490.8" r="2.8"/><circle cx="284.7" cy="488.0" r="2.8"/><circle cx="283.7" cy="488.1" r="2.8"/><circle cx="273.7" cy="482.2" r="2.8"/><circle cx="300.8" cy="508.3" r="2.8"/><circle cx="268.8" cy="488.4" r="2.8"/><circle cx="304.7" cy="508.3" r="2.8"/><circle cx="267.2" cy="505.5" r="2.8"/><circle cx="306.0" cy="493.0" r="2.8"/><circle cx="316.0" cy="483.2" r="2.8"/><circle cx="283.7" cy="491.5" r="2.8"/><circle cx="316.4" cy="488.0" r="2.8"/><circle cx="273.9" cy="505.6" r="2.8"/><circle cx="291.1" cy="481.6" r="2.8"/><circle cx="268.0" cy="483.9" r="2.8"/><circle cx="268.2" cy="500.6" r="2.8"/><circle cx="268.4" cy="490.9" r="2.8"/><circle cx="278.7" cy="491.7" r="2.8"/><circle cx="283.5" cy="482.9" r="2.8"/><circle cx="316.5" cy="507.4" r="2.8"/><circle cx="300.3" cy="493.0" r="2.8"/><circle cx="283.1" cy="482.2" r="2.8"/><circle cx="267.2" cy="484.3" r="2.8"/><circle cx="267.2" cy="506.9" r="2.8"/><circle cx="274.1" cy="492.7" r="2.8"/><circle cx="215.1" cy="488.1" r="2.8"/><circle cx="283.2" cy="508.2" r="2.8"/><circle cx="288.9" cy="490.4" r="2.8"/><circle cx="315.9" cy="509.8" r="2.8"/><circle cx="284.5" cy="495.7" r="2.8"/><circle cx="267.5" cy="505.4" r="2.8"/><circle cx="248.4" cy="492.8" r="2.8"/><circle cx="236.1" cy="495.0" r="2.8"/><circle cx="268.8" cy="499.2" r="2.8"/><circle cx="267.2" cy="482.4" r="2.8"/><circle cx="278.0" cy="506.3" r="2.8"/><circle cx="282.0" cy="499.7" r="2.8"/><circle cx="273.9" cy="495.0" r="2.8"/><circle cx="273.5" cy="495.3" r="2.8"/><circle cx="280.5" cy="506.0" r="2.8"/><circle cx="286.5" cy="506.5" r="2.8"/><circle cx="273.5" cy="505.7" r="2.8"/><circle cx="219.1" cy="506.2" r="2.8"/><circle cx="268.0" cy="494.1" r="2.8"/><circle cx="293.3" cy="500.9" r="2.8"/><circle cx="282.1" cy="494.8" r="2.8"/><circle cx="283.7" cy="498.6" r="2.8"/><circle cx="278.3" cy="505.1" r="2.8"/><circle cx="268.3" cy="491.0" r="2.8"/><circle cx="281.8" cy="484.6" r="2.8"/><circle cx="287.6" cy="510.5" r="2.8"/>
</g>
<rect x="29.5" y="403.65" width="587.0" height="126.95" fill="none" stroke="#333333" stroke-width="1.07"/>
<line x1="616.5" y1="438.00000000000006" x2="620.1" y2="438.00000000000006" stroke="#333333" stroke-width="1.07"/>
<text x="623" y="442.90" class="ax">TuPro</text>
<line x1="616.5" y1="496.20000000000005" x2="620.1" y2="496.20000000000005" stroke="#333333" stroke-width="1.07"/>
<text x="623" y="501.10" class="ax">Non−TuPro</text>
<text transform="translate(9.1,467.12) rotate(-90)" text-anchor="middle" class="st">Treatment costs</text>
<text transform="translate(22.0,465.32) rotate(-90)" text-anchor="middle" class="st">per day</text>
<line x1="55.65" y1="538.05" x2="55.65" y2="665.00" stroke="#EBEBEE" stroke-width="1.07"/>
<line x1="143.25" y1="538.05" x2="143.25" y2="665.00" stroke="#EBEBEE" stroke-width="1.07"/>
<line x1="230.85" y1="538.05" x2="230.85" y2="665.00" stroke="#EBEBEE" stroke-width="1.07"/>
<line x1="318.45" y1="538.05" x2="318.45" y2="665.00" stroke="#EBEBEE" stroke-width="1.07"/>
<line x1="406.05" y1="538.05" x2="406.05" y2="665.00" stroke="#EBEBEE" stroke-width="1.07"/>
<line x1="493.65" y1="538.05" x2="493.65" y2="665.00" stroke="#EBEBEE" stroke-width="1.07"/>
<line x1="581.25" y1="538.05" x2="581.25" y2="665.00" stroke="#EBEBEE" stroke-width="1.07"/>
<line x1="55.6" y1="572.4" x2="55.6" y2="572.4" stroke="#333333" stroke-width="1.35"/>
<line x1="55.6" y1="572.4" x2="55.6" y2="572.4" stroke="#333333" stroke-width="1.35"/>
<rect x="55.6" y="550.60" width="0.00" height="43.6" fill="#fff" stroke="#333333" stroke-width="1.35"/>
<line x1="55.6" y1="550.60" x2="55.6" y2="594.20" stroke="#333333" stroke-width="2.5"/>
<circle cx="184.1" cy="572.4" r="2.8" fill="#333333"/>
<circle cx="193.3" cy="572.4" r="2.8" fill="#333333"/>
<circle cx="215.6" cy="572.4" r="2.8" fill="#333333"/>
<circle cx="287.8" cy="572.4" r="2.8" fill="#333333"/>
<circle cx="331.8" cy="572.4" r="2.8" fill="#333333"/>
<circle cx="340.2" cy="572.4" r="2.8" fill="#333333"/>
<circle cx="397.7" cy="572.4" r="2.8" fill="#333333"/>
<circle cx="400.5" cy="572.4" r="2.8" fill="#333333"/>
<circle cx="403.5" cy="572.4" r="2.8" fill="#333333"/>
<circle cx="406.5" cy="572.4" r="2.8" fill="#333333"/>
<circle cx="409.5" cy="572.4" r="2.8" fill="#333333"/>
<circle cx="413.1" cy="572.4" r="2.8" fill="#333333"/>
<circle cx="420.6" cy="572.4" r="2.8" fill="#333333"/>
<circle cx="425.8" cy="572.4" r="2.8" fill="#333333"/>
<circle cx="434.8" cy="572.4" r="2.8" fill="#333333"/>
<circle cx="440.2" cy="572.4" r="2.8" fill="#333333"/>
<circle cx="488.2" cy="572.4" r="2.8" fill="#333333"/>
<line x1="55.6" y1="630.6" x2="55.6" y2="630.6" stroke="#333333" stroke-width="1.35"/>
<line x1="397.8" y1="630.6" x2="484.2" y2="630.6" stroke="#333333" stroke-width="1.35"/>
<rect x="55.6" y="608.80" width="342.20" height="43.6" fill="#fff" stroke="#333333" stroke-width="1.35"/>
<line x1="55.6" y1="608.80" x2="55.6" y2="652.40" stroke="#333333" stroke-width="2.5"/>
<g fill="#619CFF" fill-opacity="0.3">
<circle cx="193.8" cy="558.2" r="2.8"/><circle cx="55.9" cy="578.2" r="2.8"/><circle cx="488.2" cy="564.7" r="2.8"/><circle cx="55.9" cy="567.9" r="2.8"/><circle cx="405.4" cy="559.5" r="2.8"/><circle cx="55.9" cy="573.9" r="2.8"/><circle cx="184.1" cy="567.3" r="2.8"/><circle cx="55.9" cy="559.0" r="2.8"/><circle cx="55.9" cy="585.2" r="2.8"/><circle cx="193.3" cy="558.7" r="2.8"/><circle cx="55.9" cy="572.9" r="2.8"/><circle cx="55.9" cy="576.2" r="2.8"/><circle cx="55.9" cy="567.9" r="2.8"/><circle cx="287.8" cy="565.4" r="2.8"/><circle cx="55.9" cy="563.5" r="2.8"/><circle cx="434.3" cy="558.3" r="2.8"/><circle cx="55.9" cy="579.7" r="2.8"/><circle cx="193.3" cy="574.8" r="2.8"/><circle cx="55.9" cy="583.1" r="2.8"/><circle cx="55.9" cy="560.1" r="2.8"/><circle cx="55.9" cy="558.6" r="2.8"/><circle cx="55.9" cy="579.2" r="2.8"/><circle cx="55.9" cy="558.6" r="2.8"/><circle cx="55.9" cy="567.5" r="2.8"/><circle cx="55.9" cy="561.5" r="2.8"/><circle cx="398.3" cy="559.5" r="2.8"/><circle cx="400.2" cy="575.6" r="2.8"/><circle cx="55.9" cy="561.4" r="2.8"/><circle cx="55.9" cy="585.8" r="2.8"/><circle cx="55.9" cy="581.1" r="2.8"/><circle cx="55.9" cy="561.7" r="2.8"/><circle cx="55.9" cy="584.2" r="2.8"/><circle cx="55.9" cy="558.6" r="2.8"/><circle cx="55.9" cy="585.7" r="2.8"/><circle cx="55.9" cy="576.1" r="2.8"/><circle cx="55.9" cy="565.4" r="2.8"/><circle cx="420.1" cy="559.5" r="2.8"/><circle cx="413.5" cy="558.5" r="2.8"/><circle cx="55.9" cy="561.5" r="2.8"/><circle cx="55.9" cy="577.7" r="2.8"/><circle cx="55.9" cy="564.7" r="2.8"/><circle cx="407.3" cy="582.7" r="2.8"/><circle cx="434.8" cy="582.3" r="2.8"/><circle cx="55.9" cy="566.4" r="2.8"/><circle cx="55.9" cy="568.2" r="2.8"/><circle cx="55.9" cy="561.4" r="2.8"/><circle cx="331.8" cy="582.3" r="2.8"/><circle cx="55.9" cy="567.2" r="2.8"/><circle cx="55.9" cy="572.7" r="2.8"/><circle cx="441.0" cy="582.7" r="2.8"/><circle cx="55.9" cy="565.8" r="2.8"/><circle cx="55.9" cy="563.2" r="2.8"/><circle cx="55.9" cy="569.1" r="2.8"/><circle cx="55.9" cy="577.1" r="2.8"/><circle cx="55.9" cy="558.3" r="2.8"/><circle cx="55.9" cy="573.2" r="2.8"/><circle cx="406.7" cy="571.3" r="2.8"/><circle cx="397.3" cy="563.3" r="2.8"/><circle cx="55.9" cy="560.0" r="2.8"/><circle cx="55.9" cy="582.8" r="2.8"/><circle cx="55.9" cy="577.8" r="2.8"/><circle cx="215.6" cy="566.1" r="2.8"/><circle cx="440.5" cy="578.9" r="2.8"/><circle cx="55.9" cy="579.8" r="2.8"/><circle cx="55.9" cy="564.8" r="2.8"/><circle cx="55.9" cy="571.3" r="2.8"/><circle cx="55.9" cy="579.0" r="2.8"/><circle cx="55.9" cy="572.9" r="2.8"/><circle cx="55.9" cy="564.3" r="2.8"/><circle cx="55.9" cy="565.6" r="2.8"/><circle cx="55.9" cy="558.3" r="2.8"/><circle cx="55.9" cy="565.3" r="2.8"/><circle cx="55.9" cy="564.0" r="2.8"/><circle cx="55.9" cy="583.5" r="2.8"/><circle cx="55.9" cy="571.8" r="2.8"/><circle cx="55.9" cy="583.2" r="2.8"/><circle cx="55.9" cy="572.2" r="2.8"/><circle cx="55.9" cy="575.0" r="2.8"/><circle cx="55.9" cy="570.9" r="2.8"/><circle cx="55.9" cy="559.3" r="2.8"/><circle cx="55.9" cy="573.5" r="2.8"/><circle cx="193.3" cy="566.1" r="2.8"/><circle cx="55.9" cy="579.1" r="2.8"/><circle cx="55.9" cy="564.6" r="2.8"/><circle cx="397.8" cy="584.2" r="2.8"/><circle cx="55.9" cy="562.3" r="2.8"/><circle cx="55.9" cy="583.6" r="2.8"/><circle cx="55.9" cy="562.0" r="2.8"/><circle cx="55.9" cy="579.4" r="2.8"/><circle cx="55.9" cy="573.8" r="2.8"/><circle cx="55.9" cy="563.4" r="2.8"/><circle cx="55.9" cy="566.4" r="2.8"/><circle cx="404.1" cy="580.5" r="2.8"/><circle cx="55.9" cy="586.2" r="2.8"/><circle cx="55.9" cy="564.2" r="2.8"/><circle cx="55.9" cy="563.2" r="2.8"/><circle cx="340.2" cy="558.1" r="2.8"/><circle cx="55.9" cy="579.6" r="2.8"/><circle cx="55.9" cy="565.1" r="2.8"/><circle cx="55.9" cy="579.1" r="2.8"/><circle cx="408.2" cy="564.2" r="2.8"/><circle cx="55.9" cy="562.1" r="2.8"/><circle cx="55.9" cy="565.3" r="2.8"/><circle cx="55.9" cy="578.1" r="2.8"/><circle cx="408.0" cy="566.0" r="2.8"/><circle cx="55.9" cy="581.8" r="2.8"/><circle cx="55.9" cy="582.4" r="2.8"/><circle cx="340.2" cy="563.9" r="2.8"/><circle cx="55.9" cy="569.0" r="2.8"/><circle cx="55.9" cy="571.9" r="2.8"/><circle cx="55.9" cy="578.5" r="2.8"/><circle cx="55.9" cy="586.4" r="2.8"/><circle cx="55.9" cy="567.7" r="2.8"/><circle cx="55.9" cy="583.2" r="2.8"/><circle cx="55.9" cy="563.1" r="2.8"/><circle cx="55.9" cy="560.9" r="2.8"/><circle cx="55.9" cy="585.8" r="2.8"/><circle cx="55.9" cy="564.4" r="2.8"/><circle cx="55.9" cy="570.8" r="2.8"/><circle cx="398.8" cy="560.8" r="2.8"/><circle cx="55.9" cy="579.9" r="2.8"/><circle cx="55.9" cy="576.4" r="2.8"/><circle cx="55.9" cy="569.5" r="2.8"/><circle cx="55.9" cy="559.2" r="2.8"/><circle cx="55.9" cy="577.9" r="2.8"/><circle cx="55.9" cy="577.1" r="2.8"/><circle cx="405.9" cy="580.4" r="2.8"/><circle cx="55.9" cy="566.4" r="2.8"/><circle cx="55.9" cy="579.9" r="2.8"/><circle cx="55.9" cy="561.1" r="2.8"/><circle cx="55.9" cy="558.2" r="2.8"/><circle cx="55.9" cy="582.3" r="2.8"/><circle cx="55.9" cy="573.7" r="2.8"/><circle cx="425.8" cy="568.5" r="2.8"/><circle cx="55.9" cy="579.9" r="2.8"/><circle cx="55.9" cy="577.8" r="2.8"/><circle cx="55.9" cy="566.9" r="2.8"/><circle cx="55.9" cy="576.4" r="2.8"/><circle cx="55.9" cy="578.2" r="2.8"/><circle cx="55.9" cy="563.6" r="2.8"/>
</g>
<g fill="#619CFF" fill-opacity="0.3">
<circle cx="55.9" cy="631.1" r="2.8"/><circle cx="55.9" cy="642.8" r="2.8"/><circle cx="55.9" cy="620.4" r="2.8"/><circle cx="55.9" cy="621.4" r="2.8"/><circle cx="401.5" cy="627.5" r="2.8"/><circle cx="55.9" cy="623.3" r="2.8"/><circle cx="55.9" cy="639.2" r="2.8"/><circle cx="55.9" cy="620.0" r="2.8"/><circle cx="423.8" cy="634.2" r="2.8"/><circle cx="398.6" cy="631.3" r="2.8"/><circle cx="55.9" cy="642.3" r="2.8"/><circle cx="397.6" cy="629.9" r="2.8"/><circle cx="55.9" cy="636.7" r="2.8"/><circle cx="341.8" cy="630.7" r="2.8"/><circle cx="55.9" cy="625.0" r="2.8"/><circle cx="55.9" cy="624.3" r="2.8"/><circle cx="484.2" cy="643.4" r="2.8"/><circle cx="55.9" cy="623.0" r="2.8"/><circle cx="55.9" cy="642.3" r="2.8"/><circle cx="55.9" cy="619.0" r="2.8"/><circle cx="55.9" cy="642.4" r="2.8"/><circle cx="55.9" cy="639.8" r="2.8"/><circle cx="450.6" cy="617.9" r="2.8"/><circle cx="55.9" cy="629.5" r="2.8"/><circle cx="55.9" cy="619.4" r="2.8"/><circle cx="219.6" cy="627.8" r="2.8"/><circle cx="55.9" cy="637.4" r="2.8"/><circle cx="55.9" cy="625.5" r="2.8"/><circle cx="55.9" cy="618.7" r="2.8"/><circle cx="468.4" cy="627.6" r="2.8"/><circle cx="55.9" cy="642.2" r="2.8"/><circle cx="397.7" cy="632.2" r="2.8"/><circle cx="55.9" cy="623.8" r="2.8"/><circle cx="55.9" cy="619.9" r="2.8"/><circle cx="287.8" cy="638.0" r="2.8"/><circle cx="408.0" cy="636.8" r="2.8"/><circle cx="55.9" cy="621.1" r="2.8"/><circle cx="55.9" cy="626.2" r="2.8"/><circle cx="397.7" cy="643.8" r="2.8"/><circle cx="55.9" cy="634.1" r="2.8"/><circle cx="354.7" cy="630.7" r="2.8"/><circle cx="193.3" cy="639.7" r="2.8"/><circle cx="55.9" cy="639.6" r="2.8"/><circle cx="55.9" cy="634.1" r="2.8"/><circle cx="398.9" cy="634.2" r="2.8"/><circle cx="55.9" cy="617.1" r="2.8"/><circle cx="454.8" cy="625.5" r="2.8"/><circle cx="55.9" cy="644.7" r="2.8"/><circle cx="55.9" cy="638.0" r="2.8"/><circle cx="55.9" cy="627.8" r="2.8"/><circle cx="55.9" cy="629.7" r="2.8"/><circle cx="55.9" cy="629.6" r="2.8"/><circle cx="184.1" cy="624.1" r="2.8"/><circle cx="55.9" cy="628.4" r="2.8"/><circle cx="55.9" cy="632.9" r="2.8"/><circle cx="414.1" cy="637.6" r="2.8"/><circle cx="193.3" cy="629.3" r="2.8"/><circle cx="55.9" cy="633.1" r="2.8"/><circle cx="55.9" cy="616.9" r="2.8"/><circle cx="55.9" cy="621.6" r="2.8"/><circle cx="55.9" cy="629.3" r="2.8"/><circle cx="55.9" cy="642.1" r="2.8"/><circle cx="399.0" cy="644.9" r="2.8"/><circle cx="55.9" cy="633.4" r="2.8"/><circle cx="193.3" cy="632.3" r="2.8"/><circle cx="55.9" cy="630.3" r="2.8"/><circle cx="55.9" cy="633.0" r="2.8"/><circle cx="55.9" cy="636.2" r="2.8"/><circle cx="55.9" cy="642.3" r="2.8"/><circle cx="430.4" cy="634.2" r="2.8"/><circle cx="403.3" cy="623.0" r="2.8"/><circle cx="427.7" cy="642.0" r="2.8"/><circle cx="405.1" cy="629.5" r="2.8"/><circle cx="55.9" cy="625.6" r="2.8"/><circle cx="55.9" cy="639.2" r="2.8"/><circle cx="193.3" cy="620.4" r="2.8"/><circle cx="55.9" cy="632.0" r="2.8"/><circle cx="55.9" cy="616.5" r="2.8"/><circle cx="55.9" cy="640.8" r="2.8"/><circle cx="184.1" cy="639.7" r="2.8"/><circle cx="193.3" cy="636.0" r="2.8"/><circle cx="55.9" cy="628.1" r="2.8"/><circle cx="55.9" cy="626.1" r="2.8"/><circle cx="55.9" cy="625.0" r="2.8"/><circle cx="426.4" cy="640.7" r="2.8"/><circle cx="409.1" cy="627.3" r="2.8"/><circle cx="193.3" cy="618.6" r="2.8"/><circle cx="404.9" cy="638.4" r="2.8"/><circle cx="219.6" cy="638.5" r="2.8"/><circle cx="398.9" cy="625.1" r="2.8"/><circle cx="55.9" cy="639.4" r="2.8"/><circle cx="55.9" cy="622.3" r="2.8"/><circle cx="55.9" cy="630.8" r="2.8"/><circle cx="55.9" cy="627.8" r="2.8"/><circle cx="55.9" cy="637.0" r="2.8"/><circle cx="407.9" cy="640.7" r="2.8"/><circle cx="55.9" cy="616.4" r="2.8"/><circle cx="484.2" cy="616.3" r="2.8"/><circle cx="55.9" cy="643.9" r="2.8"/><circle cx="55.9" cy="640.3" r="2.8"/><circle cx="397.6" cy="627.7" r="2.8"/><circle cx="55.9" cy="630.4" r="2.8"/><circle cx="55.9" cy="634.5" r="2.8"/><circle cx="406.8" cy="618.0" r="2.8"/><circle cx="397.8" cy="621.2" r="2.8"/><circle cx="55.9" cy="623.9" r="2.8"/><circle cx="55.9" cy="621.9" r="2.8"/><circle cx="55.9" cy="631.2" r="2.8"/><circle cx="55.9" cy="630.6" r="2.8"/><circle cx="184.1" cy="627.8" r="2.8"/><circle cx="55.9" cy="644.8" r="2.8"/><circle cx="55.9" cy="619.9" r="2.8"/><circle cx="55.9" cy="639.3" r="2.8"/><circle cx="399.2" cy="642.7" r="2.8"/><circle cx="55.9" cy="622.6" r="2.8"/><circle cx="55.9" cy="625.3" r="2.8"/><circle cx="55.9" cy="629.4" r="2.8"/><circle cx="55.9" cy="641.8" r="2.8"/><circle cx="55.9" cy="625.6" r="2.8"/><circle cx="55.9" cy="626.5" r="2.8"/><circle cx="55.9" cy="620.5" r="2.8"/><circle cx="55.9" cy="626.7" r="2.8"/><circle cx="55.9" cy="641.4" r="2.8"/><circle cx="55.9" cy="629.2" r="2.8"/><circle cx="435.6" cy="637.6" r="2.8"/><circle cx="55.9" cy="641.0" r="2.8"/><circle cx="55.9" cy="629.8" r="2.8"/><circle cx="294.5" cy="638.5" r="2.8"/><circle cx="55.9" cy="644.7" r="2.8"/><circle cx="55.9" cy="631.3" r="2.8"/><circle cx="193.3" cy="642.2" r="2.8"/><circle cx="55.9" cy="620.9" r="2.8"/><circle cx="55.9" cy="628.1" r="2.8"/><circle cx="287.8" cy="644.7" r="2.8"/><circle cx="55.9" cy="628.8" r="2.8"/><circle cx="55.9" cy="630.8" r="2.8"/><circle cx="55.9" cy="622.6" r="2.8"/><circle cx="55.9" cy="621.1" r="2.8"/><circle cx="55.9" cy="639.0" r="2.8"/><circle cx="397.7" cy="626.3" r="2.8"/><circle cx="398.8" cy="638.0" r="2.8"/><circle cx="400.7" cy="619.3" r="2.8"/><circle cx="55.9" cy="629.9" r="2.8"/><circle cx="55.9" cy="620.6" r="2.8"/><circle cx="55.9" cy="619.5" r="2.8"/><circle cx="55.9" cy="643.0" r="2.8"/><circle cx="55.9" cy="644.2" r="2.8"/><circle cx="55.9" cy="620.4" r="2.8"/><circle cx="398.8" cy="624.1" r="2.8"/><circle cx="55.9" cy="643.0" r="2.8"/>
</g>
<rect x="29.5" y="538.05" width="587.0" height="126.95" fill="none" stroke="#333333" stroke-width="1.07"/>
<line x1="616.5" y1="572.4" x2="620.1" y2="572.4" stroke="#333333" stroke-width="1.07"/>
<text x="623" y="577.30" class="ax">TuPro</text>
<line x1="616.5" y1="630.6" x2="620.1" y2="630.6" stroke="#333333" stroke-width="1.07"/>
<text x="623" y="635.50" class="ax">Non−TuPro</text>
<text transform="translate(16.4,601.53) rotate(-90)" text-anchor="middle" class="st">AE costs</text>
<line x1="55.65" y1="672.45" x2="55.65" y2="799.40" stroke="#EBEBEE" stroke-width="1.07"/>
<line x1="143.25" y1="672.45" x2="143.25" y2="799.40" stroke="#EBEBEE" stroke-width="1.07"/>
<line x1="230.85" y1="672.45" x2="230.85" y2="799.40" stroke="#EBEBEE" stroke-width="1.07"/>
<line x1="318.45" y1="672.45" x2="318.45" y2="799.40" stroke="#EBEBEE" stroke-width="1.07"/>
<line x1="406.05" y1="672.45" x2="406.05" y2="799.40" stroke="#EBEBEE" stroke-width="1.07"/>
<line x1="493.65" y1="672.45" x2="493.65" y2="799.40" stroke="#EBEBEE" stroke-width="1.07"/>
<line x1="581.25" y1="672.45" x2="581.25" y2="799.40" stroke="#EBEBEE" stroke-width="1.07"/>
<line x1="427.6" y1="706.8" x2="427.6" y2="706.8" stroke="#333333" stroke-width="1.35"/>
<line x1="427.6" y1="706.8" x2="427.6" y2="706.8" stroke="#333333" stroke-width="1.35"/>
<rect x="427.6" y="685.00" width="0.00" height="43.6" fill="#fff" stroke="#333333" stroke-width="1.35"/>
<line x1="427.6" y1="685.00" x2="427.6" y2="728.60" stroke="#333333" stroke-width="2.5"/>
<line x1="360.9" y1="765.0" x2="360.9" y2="765.0" stroke="#333333" stroke-width="1.35"/>
<line x1="360.9" y1="765.0" x2="360.9" y2="765.0" stroke="#333333" stroke-width="1.35"/>
<rect x="360.9" y="743.20" width="0.00" height="43.6" fill="#fff" stroke="#333333" stroke-width="1.35"/>
<line x1="360.9" y1="743.20" x2="360.9" y2="786.80" stroke="#333333" stroke-width="2.5"/>
<g fill="#F564E3" fill-opacity="0.3">
<circle cx="427.6" cy="713.8" r="2.8"/><circle cx="427.6" cy="708.7" r="2.8"/><circle cx="427.6" cy="693.2" r="2.8"/><circle cx="427.6" cy="701.5" r="2.8"/><circle cx="427.6" cy="709.0" r="2.8"/><circle cx="427.6" cy="701.3" r="2.8"/><circle cx="427.6" cy="694.3" r="2.8"/><circle cx="427.6" cy="719.3" r="2.8"/><circle cx="427.6" cy="707.9" r="2.8"/><circle cx="427.6" cy="695.3" r="2.8"/><circle cx="427.6" cy="702.3" r="2.8"/><circle cx="427.6" cy="693.5" r="2.8"/><circle cx="427.6" cy="702.1" r="2.8"/><circle cx="427.6" cy="702.4" r="2.8"/><circle cx="427.6" cy="699.2" r="2.8"/><circle cx="427.6" cy="696.9" r="2.8"/><circle cx="427.6" cy="716.4" r="2.8"/><circle cx="427.6" cy="713.6" r="2.8"/><circle cx="427.6" cy="705.4" r="2.8"/><circle cx="427.6" cy="710.2" r="2.8"/><circle cx="427.6" cy="710.3" r="2.8"/><circle cx="427.6" cy="707.5" r="2.8"/><circle cx="427.6" cy="716.1" r="2.8"/><circle cx="427.6" cy="713.2" r="2.8"/><circle cx="427.6" cy="711.1" r="2.8"/><circle cx="427.6" cy="712.9" r="2.8"/><circle cx="427.6" cy="705.2" r="2.8"/><circle cx="427.6" cy="692.5" r="2.8"/><circle cx="427.6" cy="717.7" r="2.8"/><circle cx="427.6" cy="703.9" r="2.8"/><circle cx="427.6" cy="709.2" r="2.8"/><circle cx="427.6" cy="713.7" r="2.8"/><circle cx="427.6" cy="703.3" r="2.8"/><circle cx="427.6" cy="693.9" r="2.8"/><circle cx="427.6" cy="718.0" r="2.8"/><circle cx="427.6" cy="712.2" r="2.8"/><circle cx="427.6" cy="718.2" r="2.8"/><circle cx="427.6" cy="698.7" r="2.8"/><circle cx="427.6" cy="708.1" r="2.8"/><circle cx="427.6" cy="718.2" r="2.8"/><circle cx="427.6" cy="715.8" r="2.8"/><circle cx="427.6" cy="720.1" r="2.8"/><circle cx="427.6" cy="701.3" r="2.8"/><circle cx="427.6" cy="704.2" r="2.8"/><circle cx="427.6" cy="707.6" r="2.8"/><circle cx="427.6" cy="695.3" r="2.8"/><circle cx="427.6" cy="702.3" r="2.8"/><circle cx="427.6" cy="702.0" r="2.8"/><circle cx="427.6" cy="701.4" r="2.8"/><circle cx="427.6" cy="694.1" r="2.8"/><circle cx="427.6" cy="709.5" r="2.8"/><circle cx="427.6" cy="716.3" r="2.8"/><circle cx="427.6" cy="709.2" r="2.8"/><circle cx="427.6" cy="698.3" r="2.8"/><circle cx="427.6" cy="719.2" r="2.8"/><circle cx="427.6" cy="692.6" r="2.8"/><circle cx="427.6" cy="708.3" r="2.8"/><circle cx="427.6" cy="707.9" r="2.8"/><circle cx="427.6" cy="713.0" r="2.8"/><circle cx="427.6" cy="693.3" r="2.8"/><circle cx="427.6" cy="708.3" r="2.8"/><circle cx="427.6" cy="710.3" r="2.8"/><circle cx="427.6" cy="698.5" r="2.8"/><circle cx="427.6" cy="693.4" r="2.8"/><circle cx="427.6" cy="710.8" r="2.8"/><circle cx="427.6" cy="692.8" r="2.8"/><circle cx="427.6" cy="708.8" r="2.8"/><circle cx="427.6" cy="717.4" r="2.8"/><circle cx="427.6" cy="706.2" r="2.8"/><circle cx="427.6" cy="716.8" r="2.8"/><circle cx="427.6" cy="698.1" r="2.8"/><circle cx="427.6" cy="718.9" r="2.8"/><circle cx="427.6" cy="693.9" r="2.8"/><circle cx="427.6" cy="719.4" r="2.8"/><circle cx="427.6" cy="714.7" r="2.8"/><circle cx="427.6" cy="708.4" r="2.8"/><circle cx="427.6" cy="708.0" r="2.8"/><circle cx="427.6" cy="705.6" r="2.8"/><circle cx="427.6" cy="708.5" r="2.8"/><circle cx="427.6" cy="696.7" r="2.8"/><circle cx="427.6" cy="712.1" r="2.8"/><circle cx="427.6" cy="718.5" r="2.8"/><circle cx="427.6" cy="712.4" r="2.8"/><circle cx="427.6" cy="699.0" r="2.8"/><circle cx="427.6" cy="694.3" r="2.8"/><circle cx="427.6" cy="703.0" r="2.8"/><circle cx="427.6" cy="694.4" r="2.8"/><circle cx="427.6" cy="698.2" r="2.8"/><circle cx="427.6" cy="696.5" r="2.8"/><circle cx="427.6" cy="712.4" r="2.8"/><circle cx="427.6" cy="704.1" r="2.8"/><circle cx="427.6" cy="692.8" r="2.8"/><circle cx="427.6" cy="707.8" r="2.8"/><circle cx="427.6" cy="704.4" r="2.8"/><circle cx="427.6" cy="714.6" r="2.8"/><circle cx="427.6" cy="713.0" r="2.8"/><circle cx="427.6" cy="695.1" r="2.8"/><circle cx="427.6" cy="700.7" r="2.8"/><circle cx="427.6" cy="699.5" r="2.8"/><circle cx="427.6" cy="714.2" r="2.8"/><circle cx="427.6" cy="720.0" r="2.8"/><circle cx="427.6" cy="698.1" r="2.8"/><circle cx="427.6" cy="718.7" r="2.8"/><circle cx="427.6" cy="716.4" r="2.8"/><circle cx="427.6" cy="720.6" r="2.8"/><circle cx="427.6" cy="720.5" r="2.8"/><circle cx="427.6" cy="709.2" r="2.8"/><circle cx="427.6" cy="694.4" r="2.8"/><circle cx="427.6" cy="702.6" r="2.8"/><circle cx="427.6" cy="719.3" r="2.8"/>
</g>
<g fill="#F564E3" fill-opacity="0.3">
<circle cx="360.9" cy="751.5" r="2.8"/><circle cx="360.9" cy="772.7" r="2.8"/><circle cx="360.9" cy="775.1" r="2.8"/><circle cx="360.9" cy="755.2" r="2.8"/><circle cx="360.9" cy="768.2" r="2.8"/><circle cx="360.9" cy="778.2" r="2.8"/><circle cx="360.9" cy="775.5" r="2.8"/><circle cx="360.9" cy="768.8" r="2.8"/><circle cx="360.9" cy="759.7" r="2.8"/><circle cx="360.9" cy="765.8" r="2.8"/><circle cx="360.9" cy="768.5" r="2.8"/><circle cx="360.9" cy="774.4" r="2.8"/><circle cx="360.9" cy="776.5" r="2.8"/><circle cx="360.9" cy="760.7" r="2.8"/><circle cx="360.9" cy="777.6" r="2.8"/><circle cx="360.9" cy="752.9" r="2.8"/><circle cx="360.9" cy="776.3" r="2.8"/><circle cx="360.9" cy="768.0" r="2.8"/><circle cx="360.9" cy="763.4" r="2.8"/><circle cx="360.9" cy="776.0" r="2.8"/><circle cx="360.9" cy="776.4" r="2.8"/><circle cx="360.9" cy="758.1" r="2.8"/><circle cx="360.9" cy="754.6" r="2.8"/><circle cx="360.9" cy="767.0" r="2.8"/><circle cx="360.9" cy="752.3" r="2.8"/><circle cx="360.9" cy="764.4" r="2.8"/><circle cx="360.9" cy="770.3" r="2.8"/><circle cx="360.9" cy="778.3" r="2.8"/><circle cx="360.9" cy="774.4" r="2.8"/><circle cx="360.9" cy="768.3" r="2.8"/><circle cx="360.9" cy="773.4" r="2.8"/><circle cx="360.9" cy="753.9" r="2.8"/><circle cx="360.9" cy="775.8" r="2.8"/><circle cx="360.9" cy="765.8" r="2.8"/><circle cx="360.9" cy="756.7" r="2.8"/><circle cx="360.9" cy="752.8" r="2.8"/><circle cx="360.9" cy="764.8" r="2.8"/><circle cx="360.9" cy="765.4" r="2.8"/><circle cx="360.9" cy="771.9" r="2.8"/><circle cx="360.9" cy="759.3" r="2.8"/><circle cx="360.9" cy="768.7" r="2.8"/><circle cx="360.9" cy="773.4" r="2.8"/><circle cx="360.9" cy="757.4" r="2.8"/><circle cx="360.9" cy="779.2" r="2.8"/><circle cx="360.9" cy="760.2" r="2.8"/><circle cx="360.9" cy="753.6" r="2.8"/><circle cx="360.9" cy="752.5" r="2.8"/><circle cx="360.9" cy="761.4" r="2.8"/><circle cx="360.9" cy="777.4" r="2.8"/><circle cx="360.9" cy="774.1" r="2.8"/><circle cx="360.9" cy="778.3" r="2.8"/><circle cx="360.9" cy="761.9" r="2.8"/><circle cx="360.9" cy="767.8" r="2.8"/><circle cx="360.9" cy="769.5" r="2.8"/><circle cx="360.9" cy="754.9" r="2.8"/><circle cx="360.9" cy="755.0" r="2.8"/><circle cx="360.9" cy="763.2" r="2.8"/><circle cx="360.9" cy="762.8" r="2.8"/><circle cx="360.9" cy="773.7" r="2.8"/><circle cx="360.9" cy="759.8" r="2.8"/><circle cx="360.9" cy="751.6" r="2.8"/><circle cx="360.9" cy="760.3" r="2.8"/><circle cx="360.9" cy="751.9" r="2.8"/><circle cx="360.9" cy="765.7" r="2.8"/><circle cx="360.9" cy="760.2" r="2.8"/><circle cx="360.9" cy="763.3" r="2.8"/><circle cx="360.9" cy="750.9" r="2.8"/><circle cx="360.9" cy="773.5" r="2.8"/><circle cx="360.9" cy="765.5" r="2.8"/><circle cx="360.9" cy="754.7" r="2.8"/><circle cx="360.9" cy="771.6" r="2.8"/><circle cx="360.9" cy="768.8" r="2.8"/><circle cx="360.9" cy="758.0" r="2.8"/><circle cx="360.9" cy="752.8" r="2.8"/><circle cx="360.9" cy="756.6" r="2.8"/><circle cx="360.9" cy="767.6" r="2.8"/><circle cx="360.9" cy="764.9" r="2.8"/><circle cx="360.9" cy="755.7" r="2.8"/><circle cx="360.9" cy="765.2" r="2.8"/><circle cx="360.9" cy="758.8" r="2.8"/><circle cx="360.9" cy="769.1" r="2.8"/><circle cx="360.9" cy="778.0" r="2.8"/><circle cx="360.9" cy="778.5" r="2.8"/><circle cx="360.9" cy="751.5" r="2.8"/><circle cx="360.9" cy="776.3" r="2.8"/><circle cx="360.9" cy="770.4" r="2.8"/><circle cx="360.9" cy="756.9" r="2.8"/><circle cx="360.9" cy="759.1" r="2.8"/><circle cx="360.9" cy="773.7" r="2.8"/><circle cx="360.9" cy="764.9" r="2.8"/><circle cx="360.9" cy="774.6" r="2.8"/><circle cx="360.9" cy="753.5" r="2.8"/><circle cx="360.9" cy="763.8" r="2.8"/><circle cx="360.9" cy="761.7" r="2.8"/><circle cx="360.9" cy="760.5" r="2.8"/><circle cx="360.9" cy="759.7" r="2.8"/><circle cx="360.9" cy="761.4" r="2.8"/><circle cx="360.9" cy="757.8" r="2.8"/><circle cx="360.9" cy="772.3" r="2.8"/><circle cx="360.9" cy="754.0" r="2.8"/><circle cx="360.9" cy="755.9" r="2.8"/><circle cx="360.9" cy="756.7" r="2.8"/><circle cx="360.9" cy="771.1" r="2.8"/><circle cx="360.9" cy="763.8" r="2.8"/><circle cx="360.9" cy="770.9" r="2.8"/><circle cx="360.9" cy="764.3" r="2.8"/><circle cx="360.9" cy="771.4" r="2.8"/><circle cx="360.9" cy="757.0" r="2.8"/><circle cx="360.9" cy="751.1" r="2.8"/><circle cx="360.9" cy="757.2" r="2.8"/>
</g>
<rect x="29.5" y="672.45" width="587.0" height="126.95" fill="none" stroke="#333333" stroke-width="1.07"/>
<line x1="616.5" y1="706.8" x2="620.1" y2="706.8" stroke="#333333" stroke-width="1.07"/>
<text x="623" y="711.70" class="ax">TuPro</text>
<line x1="616.5" y1="765.0" x2="620.1" y2="765.0" stroke="#333333" stroke-width="1.07"/>
<text x="623" y="769.90" class="ax">Non−TuPro</text>
<text transform="translate(16.4,735.92) rotate(-90)" text-anchor="middle" class="st">Diagn. costs</text>
<line x1="55.65" y1="799.40" x2="55.65" y2="803.00" stroke="#333333" stroke-width="1.07"/>
<text x="55.65" y="815" text-anchor="middle" class="ax">1</text>
<line x1="143.25" y1="799.40" x2="143.25" y2="803.00" stroke="#333333" stroke-width="1.07"/>
<text x="143.25" y="815" text-anchor="middle" class="ax">10</text>
<line x1="230.85" y1="799.40" x2="230.85" y2="803.00" stroke="#333333" stroke-width="1.07"/>
<text x="230.85" y="815" text-anchor="middle" class="ax">100</text>
<line x1="318.45" y1="799.40" x2="318.45" y2="803.00" stroke="#333333" stroke-width="1.07"/>
<text x="318.45" y="815" text-anchor="middle" class="ax">1,000</text>
<line x1="406.05" y1="799.40" x2="406.05" y2="803.00" stroke="#333333" stroke-width="1.07"/>
<text x="406.05" y="815" text-anchor="middle" class="ax">10,000</text>
<line x1="493.65" y1="799.40" x2="493.65" y2="803.00" stroke="#333333" stroke-width="1.07"/>
<text x="493.65" y="815" text-anchor="middle" class="ax">100,000</text>
<line x1="581.25" y1="799.40" x2="581.25" y2="803.00" stroke="#333333" stroke-width="1.07"/>
<text x="581.25" y="815" text-anchor="middle" class="ax">1,000,000</text>
<text x="323" y="830.2" text-anchor="middle" class="ti">Costs (CHF)</text>
</svg>
</body></html>
